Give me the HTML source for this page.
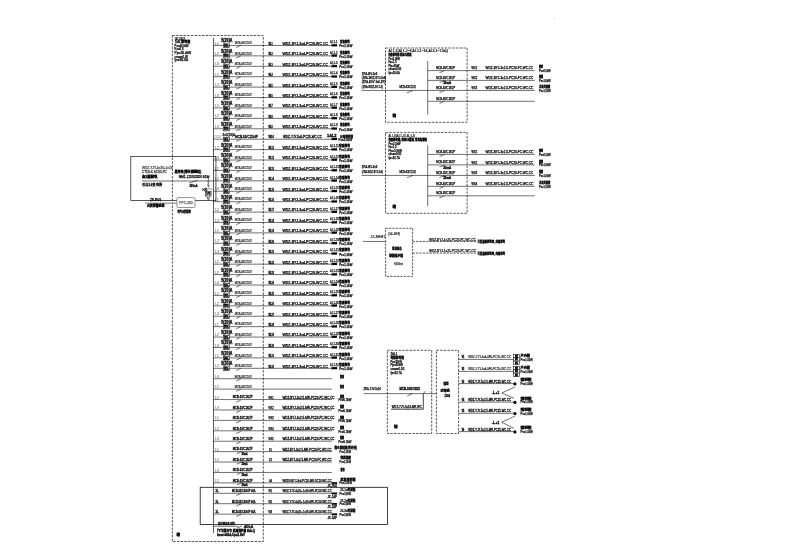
<!DOCTYPE html>
<html lang="zh">
<head>
<meta charset="utf-8">
<title>配电系统图</title>
<style>
html,body{margin:0;padding:0;background:#fff;}
body{width:800px;height:558px;overflow:hidden;}
svg{display:block;}
svg{filter:grayscale(1);}
text{font-family:"Liberation Sans","Noto Sans CJK SC",sans-serif;fill:#000;stroke:#000;stroke-width:0.25px;}
text.b{font-weight:bold;stroke-width:0.3px;}
text.m{stroke-width:0.27px;}
text.c{font-weight:bold;stroke-width:0.28px;}
</style>
</head>
<body>
<svg width="800" height="558" viewBox="0 0 800 558">
<rect x="0" y="0" width="800" height="558" fill="#fff"/>
<rect x="172.40" y="35.50" width="90.90" height="506.00" fill="none" stroke="#111" stroke-width="0.7" stroke-dasharray="2.5 1.2"/>
<line x1="213.50" y1="38.00" x2="213.50" y2="533.00" stroke="#111" stroke-width="0.7"/>
<text x="174.60" y="39.70" font-size="3.9" textLength="10.50" lengthAdjust="spacingAndGlyphs">1AL1(AL2)</text>
<text x="174.80" y="43.27" font-size="3.77" textLength="6.00" lengthAdjust="spacingAndGlyphs">1#AL</text>
<text x="181.20" y="43.27" font-size="3.4" textLength="9.00" lengthAdjust="spacingAndGlyphs" class="c">配电箱</text>
<text x="174.60" y="46.84" font-size="3.9" textLength="14.00" lengthAdjust="spacingAndGlyphs">Pe=48.0kW</text>
<text x="174.60" y="50.41" font-size="3.9" textLength="9.00" lengthAdjust="spacingAndGlyphs">Kx=0.8</text>
<text x="174.60" y="53.98" font-size="3.9" textLength="16.50" lengthAdjust="spacingAndGlyphs">Pjs=38.4kW</text>
<text x="174.60" y="57.55" font-size="3.9" textLength="13.50" lengthAdjust="spacingAndGlyphs">cosø=0.85</text>
<text x="174.60" y="61.12" font-size="3.9" textLength="13.50" lengthAdjust="spacingAndGlyphs">Ijs=68.6A</text>
<text x="176.50" y="536.30" font-size="3.6" class="c">箱</text>
<line x1="213.50" y1="45.45" x2="331.90" y2="45.45" stroke="#111" stroke-width="0.6"/>
<text x="215.20" y="44.55" font-size="3.38" textLength="3.70" lengthAdjust="spacingAndGlyphs" style="fill:#555;stroke:#555;stroke-width:0.06px">L1</text>
<text x="221.30" y="42.45" font-size="4.42" textLength="11.20" lengthAdjust="spacingAndGlyphs" class="b">5(20)A</text>
<rect x="223.30" y="43.95" width="6.30" height="3.60" fill="#fff" stroke="#111" stroke-width="0.6"/>
<text x="224.00" y="47.05" font-size="3.38" textLength="4.60" lengthAdjust="spacingAndGlyphs" class="b">Wh</text>
<text x="234.80" y="44.25" font-size="3.9" textLength="17.10" lengthAdjust="spacingAndGlyphs" style="stroke-width:0.15px">MCB-63/C20/2</text>
<line x1="236.20" y1="47.65" x2="240.80" y2="45.45" stroke="#111" stroke-width="0.6"/>
<text x="268.40" y="44.85" font-size="3.9" textLength="4.20" lengthAdjust="spacingAndGlyphs" class="b">WL1</text>
<text x="282.50" y="44.85" font-size="3.9" textLength="45.50" lengthAdjust="spacingAndGlyphs">WDZ-BYJ-3x4-PC20-WC.CC</text>
<text x="330.10" y="43.15" font-size="3.51" textLength="7.60" lengthAdjust="spacingAndGlyphs" style="fill:#222;stroke:#222">AL1-1</text>
<rect x="331.70" y="44.25" width="5.30" height="2.00" fill="#000" stroke="#111" stroke-width="0.2"/>
<text x="340.00" y="43.15" font-size="3.6" textLength="9.80" lengthAdjust="spacingAndGlyphs" class="c">宿舍配电</text>
<text x="339.20" y="47.25" font-size="3.77" textLength="13.20" lengthAdjust="spacingAndGlyphs">Pe=1.0kW</text>
<line x1="213.50" y1="55.87" x2="331.90" y2="55.87" stroke="#111" stroke-width="0.6"/>
<text x="215.20" y="54.97" font-size="3.38" textLength="3.70" lengthAdjust="spacingAndGlyphs" style="fill:#555;stroke:#555;stroke-width:0.06px">L2</text>
<text x="221.30" y="52.87" font-size="4.42" textLength="11.20" lengthAdjust="spacingAndGlyphs" class="b">5(20)A</text>
<rect x="223.30" y="54.37" width="6.30" height="3.60" fill="#fff" stroke="#111" stroke-width="0.6"/>
<text x="224.00" y="57.47" font-size="3.38" textLength="4.60" lengthAdjust="spacingAndGlyphs" class="b">Wh</text>
<text x="234.80" y="54.66" font-size="3.9" textLength="17.10" lengthAdjust="spacingAndGlyphs" style="stroke-width:0.15px">MCB-63/C20/2</text>
<line x1="236.20" y1="58.07" x2="240.80" y2="55.87" stroke="#111" stroke-width="0.6"/>
<text x="268.40" y="55.27" font-size="3.9" textLength="4.20" lengthAdjust="spacingAndGlyphs" class="b">WL2</text>
<text x="282.50" y="55.27" font-size="3.9" textLength="45.50" lengthAdjust="spacingAndGlyphs">WDZ-BYJ-3x4-PC20-WC.CC</text>
<text x="330.10" y="53.57" font-size="3.51" textLength="7.60" lengthAdjust="spacingAndGlyphs" style="fill:#222;stroke:#222">AL1-2</text>
<rect x="331.70" y="54.66" width="5.30" height="2.00" fill="#000" stroke="#111" stroke-width="0.2"/>
<text x="340.00" y="53.57" font-size="3.6" textLength="9.80" lengthAdjust="spacingAndGlyphs" class="c">宿舍配电</text>
<text x="339.20" y="57.66" font-size="3.77" textLength="13.20" lengthAdjust="spacingAndGlyphs">Pe=1.0kW</text>
<line x1="213.50" y1="66.28" x2="331.90" y2="66.28" stroke="#111" stroke-width="0.6"/>
<text x="215.20" y="65.38" font-size="3.38" textLength="3.70" lengthAdjust="spacingAndGlyphs" style="fill:#555;stroke:#555;stroke-width:0.06px">L3</text>
<text x="221.30" y="63.28" font-size="4.42" textLength="11.20" lengthAdjust="spacingAndGlyphs" class="b">5(20)A</text>
<rect x="223.30" y="64.78" width="6.30" height="3.60" fill="#fff" stroke="#111" stroke-width="0.6"/>
<text x="224.00" y="67.88" font-size="3.38" textLength="4.60" lengthAdjust="spacingAndGlyphs" class="b">Wh</text>
<text x="234.80" y="65.08" font-size="3.9" textLength="17.10" lengthAdjust="spacingAndGlyphs" style="stroke-width:0.15px">MCB-63/C20/2</text>
<line x1="236.20" y1="68.48" x2="240.80" y2="66.28" stroke="#111" stroke-width="0.6"/>
<text x="268.40" y="65.68" font-size="3.9" textLength="4.20" lengthAdjust="spacingAndGlyphs" class="b">WL3</text>
<text x="282.50" y="65.68" font-size="3.9" textLength="45.50" lengthAdjust="spacingAndGlyphs">WDZ-BYJ-3x4-PC20-WC.CC</text>
<text x="330.10" y="63.98" font-size="3.51" textLength="7.60" lengthAdjust="spacingAndGlyphs" style="fill:#222;stroke:#222">AL1-3</text>
<rect x="331.70" y="65.08" width="5.30" height="2.00" fill="#000" stroke="#111" stroke-width="0.2"/>
<text x="340.00" y="63.98" font-size="3.6" textLength="9.80" lengthAdjust="spacingAndGlyphs" class="c">宿舍配电</text>
<text x="339.20" y="68.08" font-size="3.77" textLength="13.20" lengthAdjust="spacingAndGlyphs">Pe=1.0kW</text>
<line x1="213.50" y1="76.69" x2="331.90" y2="76.69" stroke="#111" stroke-width="0.6"/>
<text x="215.20" y="75.79" font-size="3.38" textLength="3.70" lengthAdjust="spacingAndGlyphs" style="fill:#555;stroke:#555;stroke-width:0.06px">L1</text>
<text x="221.30" y="73.69" font-size="4.42" textLength="11.20" lengthAdjust="spacingAndGlyphs" class="b">5(20)A</text>
<rect x="223.30" y="75.19" width="6.30" height="3.60" fill="#fff" stroke="#111" stroke-width="0.6"/>
<text x="224.00" y="78.29" font-size="3.38" textLength="4.60" lengthAdjust="spacingAndGlyphs" class="b">Wh</text>
<text x="234.80" y="75.49" font-size="3.9" textLength="17.10" lengthAdjust="spacingAndGlyphs" style="stroke-width:0.15px">MCB-63/C20/2</text>
<line x1="236.20" y1="78.89" x2="240.80" y2="76.69" stroke="#111" stroke-width="0.6"/>
<text x="268.40" y="76.09" font-size="3.9" textLength="4.20" lengthAdjust="spacingAndGlyphs" class="b">WL4</text>
<text x="282.50" y="76.09" font-size="3.9" textLength="45.50" lengthAdjust="spacingAndGlyphs">WDZ-BYJ-3x4-PC20-WC.CC</text>
<text x="330.10" y="74.39" font-size="3.51" textLength="7.60" lengthAdjust="spacingAndGlyphs" style="fill:#222;stroke:#222">AL1-4</text>
<rect x="331.70" y="75.49" width="5.30" height="2.00" fill="#000" stroke="#111" stroke-width="0.2"/>
<text x="340.00" y="74.39" font-size="3.6" textLength="9.80" lengthAdjust="spacingAndGlyphs" class="c">宿舍配电</text>
<text x="339.20" y="78.49" font-size="3.77" textLength="13.20" lengthAdjust="spacingAndGlyphs">Pe=1.0kW</text>
<line x1="213.50" y1="87.11" x2="331.90" y2="87.11" stroke="#111" stroke-width="0.6"/>
<text x="215.20" y="86.21" font-size="3.38" textLength="3.70" lengthAdjust="spacingAndGlyphs" style="fill:#555;stroke:#555;stroke-width:0.06px">L2</text>
<text x="221.30" y="84.11" font-size="4.42" textLength="11.20" lengthAdjust="spacingAndGlyphs" class="b">5(20)A</text>
<rect x="223.30" y="85.61" width="6.30" height="3.60" fill="#fff" stroke="#111" stroke-width="0.6"/>
<text x="224.00" y="88.71" font-size="3.38" textLength="4.60" lengthAdjust="spacingAndGlyphs" class="b">Wh</text>
<text x="234.80" y="85.91" font-size="3.9" textLength="17.10" lengthAdjust="spacingAndGlyphs" style="stroke-width:0.15px">MCB-63/C20/2</text>
<line x1="236.20" y1="89.31" x2="240.80" y2="87.11" stroke="#111" stroke-width="0.6"/>
<text x="268.40" y="86.51" font-size="3.9" textLength="4.20" lengthAdjust="spacingAndGlyphs" class="b">WL5</text>
<text x="282.50" y="86.51" font-size="3.9" textLength="45.50" lengthAdjust="spacingAndGlyphs">WDZ-BYJ-3x4-PC20-WC.CC</text>
<text x="330.10" y="84.81" font-size="3.51" textLength="7.60" lengthAdjust="spacingAndGlyphs" style="fill:#222;stroke:#222">AL1-5</text>
<rect x="331.70" y="85.91" width="5.30" height="2.00" fill="#000" stroke="#111" stroke-width="0.2"/>
<text x="340.00" y="84.81" font-size="3.6" textLength="9.80" lengthAdjust="spacingAndGlyphs" class="c">宿舍配电</text>
<text x="339.20" y="88.91" font-size="3.77" textLength="13.20" lengthAdjust="spacingAndGlyphs">Pe=1.0kW</text>
<line x1="213.50" y1="97.53" x2="331.90" y2="97.53" stroke="#111" stroke-width="0.6"/>
<text x="215.20" y="96.62" font-size="3.38" textLength="3.70" lengthAdjust="spacingAndGlyphs" style="fill:#555;stroke:#555;stroke-width:0.06px">L3</text>
<text x="221.30" y="94.53" font-size="4.42" textLength="11.20" lengthAdjust="spacingAndGlyphs" class="b">5(20)A</text>
<rect x="223.30" y="96.03" width="6.30" height="3.60" fill="#fff" stroke="#111" stroke-width="0.6"/>
<text x="224.00" y="99.12" font-size="3.38" textLength="4.60" lengthAdjust="spacingAndGlyphs" class="b">Wh</text>
<text x="234.80" y="96.33" font-size="3.9" textLength="17.10" lengthAdjust="spacingAndGlyphs" style="stroke-width:0.15px">MCB-63/C20/2</text>
<line x1="236.20" y1="99.73" x2="240.80" y2="97.53" stroke="#111" stroke-width="0.6"/>
<text x="268.40" y="96.93" font-size="3.9" textLength="4.20" lengthAdjust="spacingAndGlyphs" class="b">WL6</text>
<text x="282.50" y="96.93" font-size="3.9" textLength="45.50" lengthAdjust="spacingAndGlyphs">WDZ-BYJ-3x4-PC20-WC.CC</text>
<text x="330.10" y="95.23" font-size="3.51" textLength="7.60" lengthAdjust="spacingAndGlyphs" style="fill:#222;stroke:#222">AL1-6</text>
<rect x="331.70" y="96.33" width="5.30" height="2.00" fill="#000" stroke="#111" stroke-width="0.2"/>
<text x="340.00" y="95.23" font-size="3.6" textLength="9.80" lengthAdjust="spacingAndGlyphs" class="c">宿舍配电</text>
<text x="339.20" y="99.33" font-size="3.77" textLength="13.20" lengthAdjust="spacingAndGlyphs">Pe=1.0kW</text>
<line x1="213.50" y1="107.94" x2="331.90" y2="107.94" stroke="#111" stroke-width="0.6"/>
<text x="215.20" y="107.04" font-size="3.38" textLength="3.70" lengthAdjust="spacingAndGlyphs" style="fill:#555;stroke:#555;stroke-width:0.06px">L1</text>
<text x="221.30" y="104.94" font-size="4.42" textLength="11.20" lengthAdjust="spacingAndGlyphs" class="b">5(20)A</text>
<rect x="223.30" y="106.44" width="6.30" height="3.60" fill="#fff" stroke="#111" stroke-width="0.6"/>
<text x="224.00" y="109.54" font-size="3.38" textLength="4.60" lengthAdjust="spacingAndGlyphs" class="b">Wh</text>
<text x="234.80" y="106.74" font-size="3.9" textLength="17.10" lengthAdjust="spacingAndGlyphs" style="stroke-width:0.15px">MCB-63/C20/2</text>
<line x1="236.20" y1="110.14" x2="240.80" y2="107.94" stroke="#111" stroke-width="0.6"/>
<text x="268.40" y="107.34" font-size="3.9" textLength="4.20" lengthAdjust="spacingAndGlyphs" class="b">WL7</text>
<text x="282.50" y="107.34" font-size="3.9" textLength="45.50" lengthAdjust="spacingAndGlyphs">WDZ-BYJ-3x4-PC20-WC.CC</text>
<text x="330.10" y="105.64" font-size="3.51" textLength="7.60" lengthAdjust="spacingAndGlyphs" style="fill:#222;stroke:#222">AL1-7</text>
<rect x="331.70" y="106.74" width="5.30" height="2.00" fill="#000" stroke="#111" stroke-width="0.2"/>
<text x="340.00" y="105.64" font-size="3.6" textLength="9.80" lengthAdjust="spacingAndGlyphs" class="c">宿舍配电</text>
<text x="339.20" y="109.74" font-size="3.77" textLength="13.20" lengthAdjust="spacingAndGlyphs">Pe=1.0kW</text>
<line x1="213.50" y1="118.36" x2="331.90" y2="118.36" stroke="#111" stroke-width="0.6"/>
<text x="215.20" y="117.45" font-size="3.38" textLength="3.70" lengthAdjust="spacingAndGlyphs" style="fill:#555;stroke:#555;stroke-width:0.06px">L2</text>
<text x="221.30" y="115.36" font-size="4.42" textLength="11.20" lengthAdjust="spacingAndGlyphs" class="b">5(20)A</text>
<rect x="223.30" y="116.86" width="6.30" height="3.60" fill="#fff" stroke="#111" stroke-width="0.6"/>
<text x="224.00" y="119.95" font-size="3.38" textLength="4.60" lengthAdjust="spacingAndGlyphs" class="b">Wh</text>
<text x="234.80" y="117.16" font-size="3.9" textLength="17.10" lengthAdjust="spacingAndGlyphs" style="stroke-width:0.15px">MCB-63/C20/2</text>
<line x1="236.20" y1="120.56" x2="240.80" y2="118.36" stroke="#111" stroke-width="0.6"/>
<text x="268.40" y="117.76" font-size="3.9" textLength="4.20" lengthAdjust="spacingAndGlyphs" class="b">WL8</text>
<text x="282.50" y="117.76" font-size="3.9" textLength="45.50" lengthAdjust="spacingAndGlyphs">WDZ-BYJ-3x4-PC20-WC.CC</text>
<text x="330.10" y="116.06" font-size="3.51" textLength="7.60" lengthAdjust="spacingAndGlyphs" style="fill:#222;stroke:#222">AL1-8</text>
<rect x="331.70" y="117.16" width="5.30" height="2.00" fill="#000" stroke="#111" stroke-width="0.2"/>
<text x="340.00" y="116.06" font-size="3.6" textLength="9.80" lengthAdjust="spacingAndGlyphs" class="c">宿舍配电</text>
<text x="339.20" y="120.16" font-size="3.77" textLength="13.20" lengthAdjust="spacingAndGlyphs">Pe=1.0kW</text>
<line x1="213.50" y1="128.77" x2="331.90" y2="128.77" stroke="#111" stroke-width="0.6"/>
<text x="215.20" y="127.87" font-size="3.38" textLength="3.70" lengthAdjust="spacingAndGlyphs" style="fill:#555;stroke:#555;stroke-width:0.06px">L3</text>
<text x="221.30" y="125.77" font-size="4.42" textLength="11.20" lengthAdjust="spacingAndGlyphs" class="b">5(20)A</text>
<rect x="223.30" y="127.27" width="6.30" height="3.60" fill="#fff" stroke="#111" stroke-width="0.6"/>
<text x="224.00" y="130.37" font-size="3.38" textLength="4.60" lengthAdjust="spacingAndGlyphs" class="b">Wh</text>
<text x="234.80" y="127.57" font-size="3.9" textLength="17.10" lengthAdjust="spacingAndGlyphs" style="stroke-width:0.15px">MCB-63/C20/2</text>
<line x1="236.20" y1="130.97" x2="240.80" y2="128.77" stroke="#111" stroke-width="0.6"/>
<text x="268.40" y="128.17" font-size="3.9" textLength="4.20" lengthAdjust="spacingAndGlyphs" class="b">WL9</text>
<text x="282.50" y="128.17" font-size="3.9" textLength="45.50" lengthAdjust="spacingAndGlyphs">WDZ-BYJ-3x4-PC20-WC.CC</text>
<text x="330.10" y="126.47" font-size="3.51" textLength="7.60" lengthAdjust="spacingAndGlyphs" style="fill:#222;stroke:#222">AL1-9</text>
<rect x="331.70" y="127.57" width="5.30" height="2.00" fill="#000" stroke="#111" stroke-width="0.2"/>
<text x="340.00" y="126.47" font-size="3.6" textLength="9.80" lengthAdjust="spacingAndGlyphs" class="c">宿舍配电</text>
<text x="339.20" y="130.57" font-size="3.77" textLength="13.20" lengthAdjust="spacingAndGlyphs">Pe=1.0kW</text>
<line x1="213.50" y1="139.19" x2="331.90" y2="139.19" stroke="#111" stroke-width="0.6"/>
<text x="214.30" y="138.28" font-size="3.12" textLength="6.20" lengthAdjust="spacingAndGlyphs" style="fill:#555;stroke:#555;stroke-width:0.06px">L1.2.3</text>
<text x="222.50" y="136.19" font-size="3.77" textLength="12.50" lengthAdjust="spacingAndGlyphs">3x5(20)A</text>
<rect x="223.30" y="137.69" width="6.30" height="3.60" fill="#fff" stroke="#111" stroke-width="0.6"/>
<text x="224.00" y="140.78" font-size="3.38" textLength="4.60" lengthAdjust="spacingAndGlyphs" class="b">Wh</text>
<text x="235.00" y="137.99" font-size="3.9" textLength="23.00" lengthAdjust="spacingAndGlyphs" class="m">MCB-63/C25/4P</text>
<line x1="236.20" y1="141.38" x2="240.80" y2="139.19" stroke="#111" stroke-width="0.6"/>
<text x="268.60" y="138.19" font-size="3.9" textLength="5.20" lengthAdjust="spacingAndGlyphs" class="b">W10</text>
<text x="283.00" y="138.49" font-size="3.9" textLength="39.00" lengthAdjust="spacingAndGlyphs" class="m">WDZ-YJY-5x6-PC25-WC.CC</text>
<text x="327.00" y="137.38" font-size="3.9" textLength="9.50" lengthAdjust="spacingAndGlyphs" class="b">1AL2</text>
<rect x="331.70" y="137.99" width="5.30" height="2.00" fill="#000" stroke="#111" stroke-width="0.2"/>
<text x="340.00" y="137.59" font-size="3.5" textLength="13.00" lengthAdjust="spacingAndGlyphs" class="c">公共照明箱</text>
<text x="338.50" y="141.09" font-size="3.9" textLength="13.50" lengthAdjust="spacingAndGlyphs">Pe=3.0kW</text>
<line x1="213.50" y1="149.60" x2="331.90" y2="149.60" stroke="#111" stroke-width="0.6"/>
<text x="215.20" y="148.70" font-size="3.38" textLength="3.70" lengthAdjust="spacingAndGlyphs" style="fill:#555;stroke:#555;stroke-width:0.06px">L2</text>
<text x="221.30" y="146.60" font-size="4.42" textLength="11.20" lengthAdjust="spacingAndGlyphs" class="b">5(20)A</text>
<rect x="223.30" y="148.10" width="6.30" height="3.60" fill="#fff" stroke="#111" stroke-width="0.6"/>
<text x="224.00" y="151.20" font-size="3.38" textLength="4.60" lengthAdjust="spacingAndGlyphs" class="b">Wh</text>
<text x="234.80" y="148.40" font-size="3.9" textLength="17.10" lengthAdjust="spacingAndGlyphs" style="stroke-width:0.15px">MCB-63/C20/2</text>
<line x1="236.20" y1="151.80" x2="240.80" y2="149.60" stroke="#111" stroke-width="0.6"/>
<text x="268.40" y="149.00" font-size="3.9" textLength="5.40" lengthAdjust="spacingAndGlyphs" class="b">WL11</text>
<text x="282.50" y="149.00" font-size="3.9" textLength="45.50" lengthAdjust="spacingAndGlyphs">WDZ-BYJ-3x4-PC20-WC.CC</text>
<text x="330.10" y="147.30" font-size="3.51" textLength="8.80" lengthAdjust="spacingAndGlyphs" style="fill:#222;stroke:#222">AL1-11</text>
<rect x="331.70" y="148.40" width="5.30" height="2.00" fill="#000" stroke="#111" stroke-width="0.2"/>
<text x="339.00" y="147.30" font-size="3.6" textLength="11.00" lengthAdjust="spacingAndGlyphs" class="c">宿舍配电</text>
<text x="339.20" y="151.40" font-size="3.77" textLength="13.20" lengthAdjust="spacingAndGlyphs">Pe=1.0kW</text>
<line x1="213.50" y1="160.01" x2="331.90" y2="160.01" stroke="#111" stroke-width="0.6"/>
<text x="215.20" y="159.11" font-size="3.38" textLength="3.70" lengthAdjust="spacingAndGlyphs" style="fill:#555;stroke:#555;stroke-width:0.06px">L3</text>
<text x="221.30" y="157.01" font-size="4.42" textLength="11.20" lengthAdjust="spacingAndGlyphs" class="b">5(20)A</text>
<rect x="223.30" y="158.51" width="6.30" height="3.60" fill="#fff" stroke="#111" stroke-width="0.6"/>
<text x="224.00" y="161.61" font-size="3.38" textLength="4.60" lengthAdjust="spacingAndGlyphs" class="b">Wh</text>
<text x="234.80" y="158.81" font-size="3.9" textLength="17.10" lengthAdjust="spacingAndGlyphs" style="stroke-width:0.15px">MCB-63/C20/2</text>
<line x1="236.20" y1="162.21" x2="240.80" y2="160.01" stroke="#111" stroke-width="0.6"/>
<text x="268.40" y="159.41" font-size="3.9" textLength="5.40" lengthAdjust="spacingAndGlyphs" class="b">WL12</text>
<text x="282.50" y="159.41" font-size="3.9" textLength="45.50" lengthAdjust="spacingAndGlyphs">WDZ-BYJ-3x4-PC20-WC.CC</text>
<text x="330.10" y="157.71" font-size="3.51" textLength="8.80" lengthAdjust="spacingAndGlyphs" style="fill:#222;stroke:#222">AL1-12</text>
<rect x="331.70" y="158.81" width="5.30" height="2.00" fill="#000" stroke="#111" stroke-width="0.2"/>
<text x="339.00" y="157.71" font-size="3.6" textLength="11.00" lengthAdjust="spacingAndGlyphs" class="c">宿舍配电</text>
<text x="339.20" y="161.81" font-size="3.77" textLength="13.20" lengthAdjust="spacingAndGlyphs">Pe=1.0kW</text>
<line x1="213.50" y1="170.43" x2="331.90" y2="170.43" stroke="#111" stroke-width="0.6"/>
<text x="215.20" y="169.53" font-size="3.38" textLength="3.70" lengthAdjust="spacingAndGlyphs" style="fill:#555;stroke:#555;stroke-width:0.06px">L1</text>
<text x="221.30" y="167.43" font-size="4.42" textLength="11.20" lengthAdjust="spacingAndGlyphs" class="b">5(20)A</text>
<rect x="223.30" y="168.93" width="6.30" height="3.60" fill="#fff" stroke="#111" stroke-width="0.6"/>
<text x="224.00" y="172.03" font-size="3.38" textLength="4.60" lengthAdjust="spacingAndGlyphs" class="b">Wh</text>
<text x="234.80" y="169.23" font-size="3.9" textLength="17.10" lengthAdjust="spacingAndGlyphs" style="stroke-width:0.15px">MCB-63/C20/2</text>
<line x1="236.20" y1="172.63" x2="240.80" y2="170.43" stroke="#111" stroke-width="0.6"/>
<text x="268.40" y="169.83" font-size="3.9" textLength="5.40" lengthAdjust="spacingAndGlyphs" class="b">WL13</text>
<text x="282.50" y="169.83" font-size="3.9" textLength="45.50" lengthAdjust="spacingAndGlyphs">WDZ-BYJ-3x4-PC20-WC.CC</text>
<text x="330.10" y="168.13" font-size="3.51" textLength="8.80" lengthAdjust="spacingAndGlyphs" style="fill:#222;stroke:#222">AL1-13</text>
<rect x="331.70" y="169.23" width="5.30" height="2.00" fill="#000" stroke="#111" stroke-width="0.2"/>
<text x="339.00" y="168.13" font-size="3.6" textLength="11.00" lengthAdjust="spacingAndGlyphs" class="c">宿舍配电</text>
<text x="339.20" y="172.23" font-size="3.77" textLength="13.20" lengthAdjust="spacingAndGlyphs">Pe=1.0kW</text>
<line x1="213.50" y1="180.84" x2="331.90" y2="180.84" stroke="#111" stroke-width="0.6"/>
<text x="215.20" y="179.94" font-size="3.38" textLength="3.70" lengthAdjust="spacingAndGlyphs" style="fill:#555;stroke:#555;stroke-width:0.06px">L2</text>
<text x="221.30" y="177.84" font-size="4.42" textLength="11.20" lengthAdjust="spacingAndGlyphs" class="b">5(20)A</text>
<rect x="223.30" y="179.34" width="6.30" height="3.60" fill="#fff" stroke="#111" stroke-width="0.6"/>
<text x="224.00" y="182.44" font-size="3.38" textLength="4.60" lengthAdjust="spacingAndGlyphs" class="b">Wh</text>
<text x="234.80" y="179.64" font-size="3.9" textLength="17.10" lengthAdjust="spacingAndGlyphs" style="stroke-width:0.15px">MCB-63/C20/2</text>
<line x1="236.20" y1="183.04" x2="240.80" y2="180.84" stroke="#111" stroke-width="0.6"/>
<text x="268.40" y="180.24" font-size="3.9" textLength="5.40" lengthAdjust="spacingAndGlyphs" class="b">WL14</text>
<text x="282.50" y="180.24" font-size="3.9" textLength="45.50" lengthAdjust="spacingAndGlyphs">WDZ-BYJ-3x4-PC20-WC.CC</text>
<text x="330.10" y="178.54" font-size="3.51" textLength="8.80" lengthAdjust="spacingAndGlyphs" style="fill:#222;stroke:#222">AL1-14</text>
<rect x="331.70" y="179.64" width="5.30" height="2.00" fill="#000" stroke="#111" stroke-width="0.2"/>
<text x="339.00" y="178.54" font-size="3.6" textLength="11.00" lengthAdjust="spacingAndGlyphs" class="c">宿舍配电</text>
<text x="339.20" y="182.64" font-size="3.77" textLength="13.20" lengthAdjust="spacingAndGlyphs">Pe=1.0kW</text>
<line x1="213.50" y1="191.26" x2="331.90" y2="191.26" stroke="#111" stroke-width="0.6"/>
<text x="215.20" y="190.36" font-size="3.38" textLength="3.70" lengthAdjust="spacingAndGlyphs" style="fill:#555;stroke:#555;stroke-width:0.06px">L3</text>
<text x="221.30" y="188.26" font-size="4.42" textLength="11.20" lengthAdjust="spacingAndGlyphs" class="b">5(20)A</text>
<rect x="223.30" y="189.76" width="6.30" height="3.60" fill="#fff" stroke="#111" stroke-width="0.6"/>
<text x="224.00" y="192.86" font-size="3.38" textLength="4.60" lengthAdjust="spacingAndGlyphs" class="b">Wh</text>
<text x="234.80" y="190.06" font-size="3.9" textLength="17.10" lengthAdjust="spacingAndGlyphs" style="stroke-width:0.15px">MCB-63/C20/2</text>
<line x1="236.20" y1="193.46" x2="240.80" y2="191.26" stroke="#111" stroke-width="0.6"/>
<text x="268.40" y="190.66" font-size="3.9" textLength="5.40" lengthAdjust="spacingAndGlyphs" class="b">WL15</text>
<text x="282.50" y="190.66" font-size="3.9" textLength="45.50" lengthAdjust="spacingAndGlyphs">WDZ-BYJ-3x4-PC20-WC.CC</text>
<text x="330.10" y="188.96" font-size="3.51" textLength="8.80" lengthAdjust="spacingAndGlyphs" style="fill:#222;stroke:#222">AL1-15</text>
<rect x="331.70" y="190.06" width="5.30" height="2.00" fill="#000" stroke="#111" stroke-width="0.2"/>
<text x="339.00" y="188.96" font-size="3.6" textLength="11.00" lengthAdjust="spacingAndGlyphs" class="c">宿舍配电</text>
<text x="339.20" y="193.06" font-size="3.77" textLength="13.20" lengthAdjust="spacingAndGlyphs">Pe=1.0kW</text>
<line x1="213.50" y1="201.68" x2="331.90" y2="201.68" stroke="#111" stroke-width="0.6"/>
<text x="215.20" y="200.78" font-size="3.38" textLength="3.70" lengthAdjust="spacingAndGlyphs" style="fill:#555;stroke:#555;stroke-width:0.06px">L1</text>
<text x="221.30" y="198.68" font-size="4.42" textLength="11.20" lengthAdjust="spacingAndGlyphs" class="b">5(20)A</text>
<rect x="223.30" y="200.18" width="6.30" height="3.60" fill="#fff" stroke="#111" stroke-width="0.6"/>
<text x="224.00" y="203.28" font-size="3.38" textLength="4.60" lengthAdjust="spacingAndGlyphs" class="b">Wh</text>
<text x="234.80" y="200.48" font-size="3.9" textLength="17.10" lengthAdjust="spacingAndGlyphs" style="stroke-width:0.15px">MCB-63/C20/2</text>
<line x1="236.20" y1="203.88" x2="240.80" y2="201.68" stroke="#111" stroke-width="0.6"/>
<text x="268.40" y="201.08" font-size="3.9" textLength="5.40" lengthAdjust="spacingAndGlyphs" class="b">WL16</text>
<text x="282.50" y="201.08" font-size="3.9" textLength="45.50" lengthAdjust="spacingAndGlyphs">WDZ-BYJ-3x4-PC20-WC.CC</text>
<text x="330.10" y="199.38" font-size="3.51" textLength="8.80" lengthAdjust="spacingAndGlyphs" style="fill:#222;stroke:#222">AL1-16</text>
<rect x="331.70" y="200.48" width="5.30" height="2.00" fill="#000" stroke="#111" stroke-width="0.2"/>
<text x="339.00" y="199.38" font-size="3.6" textLength="11.00" lengthAdjust="spacingAndGlyphs" class="c">宿舍配电</text>
<text x="339.20" y="203.48" font-size="3.77" textLength="13.20" lengthAdjust="spacingAndGlyphs">Pe=1.0kW</text>
<line x1="213.50" y1="212.09" x2="331.90" y2="212.09" stroke="#111" stroke-width="0.6"/>
<text x="215.20" y="211.19" font-size="3.38" textLength="3.70" lengthAdjust="spacingAndGlyphs" style="fill:#555;stroke:#555;stroke-width:0.06px">L2</text>
<text x="221.30" y="209.09" font-size="4.42" textLength="11.20" lengthAdjust="spacingAndGlyphs" class="b">5(20)A</text>
<rect x="223.30" y="210.59" width="6.30" height="3.60" fill="#fff" stroke="#111" stroke-width="0.6"/>
<text x="224.00" y="213.69" font-size="3.38" textLength="4.60" lengthAdjust="spacingAndGlyphs" class="b">Wh</text>
<text x="234.80" y="210.89" font-size="3.9" textLength="17.10" lengthAdjust="spacingAndGlyphs" style="stroke-width:0.15px">MCB-63/C20/2</text>
<line x1="236.20" y1="214.29" x2="240.80" y2="212.09" stroke="#111" stroke-width="0.6"/>
<text x="268.40" y="211.49" font-size="3.9" textLength="5.40" lengthAdjust="spacingAndGlyphs" class="b">WL17</text>
<text x="282.50" y="211.49" font-size="3.9" textLength="45.50" lengthAdjust="spacingAndGlyphs">WDZ-BYJ-3x4-PC20-WC.CC</text>
<text x="330.10" y="209.79" font-size="3.51" textLength="8.80" lengthAdjust="spacingAndGlyphs" style="fill:#222;stroke:#222">AL1-17</text>
<rect x="331.70" y="210.89" width="5.30" height="2.00" fill="#000" stroke="#111" stroke-width="0.2"/>
<text x="339.00" y="209.79" font-size="3.6" textLength="11.00" lengthAdjust="spacingAndGlyphs" class="c">宿舍配电</text>
<text x="339.20" y="213.89" font-size="3.77" textLength="13.20" lengthAdjust="spacingAndGlyphs">Pe=1.0kW</text>
<line x1="213.50" y1="222.50" x2="331.90" y2="222.50" stroke="#111" stroke-width="0.6"/>
<text x="215.20" y="221.60" font-size="3.38" textLength="3.70" lengthAdjust="spacingAndGlyphs" style="fill:#555;stroke:#555;stroke-width:0.06px">L3</text>
<text x="221.30" y="219.50" font-size="4.42" textLength="11.20" lengthAdjust="spacingAndGlyphs" class="b">5(20)A</text>
<rect x="223.30" y="221.00" width="6.30" height="3.60" fill="#fff" stroke="#111" stroke-width="0.6"/>
<text x="224.00" y="224.10" font-size="3.38" textLength="4.60" lengthAdjust="spacingAndGlyphs" class="b">Wh</text>
<text x="234.80" y="221.31" font-size="3.9" textLength="17.10" lengthAdjust="spacingAndGlyphs" style="stroke-width:0.15px">MCB-63/C20/2</text>
<line x1="236.20" y1="224.70" x2="240.80" y2="222.50" stroke="#111" stroke-width="0.6"/>
<text x="268.40" y="221.91" font-size="3.9" textLength="5.40" lengthAdjust="spacingAndGlyphs" class="b">WL18</text>
<text x="282.50" y="221.91" font-size="3.9" textLength="45.50" lengthAdjust="spacingAndGlyphs">WDZ-BYJ-3x4-PC20-WC.CC</text>
<text x="330.10" y="220.20" font-size="3.51" textLength="8.80" lengthAdjust="spacingAndGlyphs" style="fill:#222;stroke:#222">AL1-18</text>
<rect x="331.70" y="221.31" width="5.30" height="2.00" fill="#000" stroke="#111" stroke-width="0.2"/>
<text x="339.00" y="220.20" font-size="3.6" textLength="11.00" lengthAdjust="spacingAndGlyphs" class="c">宿舍配电</text>
<text x="339.20" y="224.31" font-size="3.77" textLength="13.20" lengthAdjust="spacingAndGlyphs">Pe=1.0kW</text>
<line x1="213.50" y1="232.92" x2="331.90" y2="232.92" stroke="#111" stroke-width="0.6"/>
<text x="215.20" y="232.02" font-size="3.38" textLength="3.70" lengthAdjust="spacingAndGlyphs" style="fill:#555;stroke:#555;stroke-width:0.06px">L1</text>
<text x="221.30" y="229.92" font-size="4.42" textLength="11.20" lengthAdjust="spacingAndGlyphs" class="b">5(20)A</text>
<rect x="223.30" y="231.42" width="6.30" height="3.60" fill="#fff" stroke="#111" stroke-width="0.6"/>
<text x="224.00" y="234.52" font-size="3.38" textLength="4.60" lengthAdjust="spacingAndGlyphs" class="b">Wh</text>
<text x="234.80" y="231.72" font-size="3.9" textLength="17.10" lengthAdjust="spacingAndGlyphs" style="stroke-width:0.15px">MCB-63/C20/2</text>
<line x1="236.20" y1="235.12" x2="240.80" y2="232.92" stroke="#111" stroke-width="0.6"/>
<text x="268.40" y="232.32" font-size="3.9" textLength="5.40" lengthAdjust="spacingAndGlyphs" class="b">WL19</text>
<text x="282.50" y="232.32" font-size="3.9" textLength="45.50" lengthAdjust="spacingAndGlyphs">WDZ-BYJ-3x4-PC20-WC.CC</text>
<text x="330.10" y="230.62" font-size="3.51" textLength="8.80" lengthAdjust="spacingAndGlyphs" style="fill:#222;stroke:#222">AL1-19</text>
<rect x="331.70" y="231.72" width="5.30" height="2.00" fill="#000" stroke="#111" stroke-width="0.2"/>
<text x="339.00" y="230.62" font-size="3.6" textLength="11.00" lengthAdjust="spacingAndGlyphs" class="c">宿舍配电</text>
<text x="339.20" y="234.72" font-size="3.77" textLength="13.20" lengthAdjust="spacingAndGlyphs">Pe=1.0kW</text>
<line x1="213.50" y1="243.33" x2="331.90" y2="243.33" stroke="#111" stroke-width="0.6"/>
<text x="215.20" y="242.43" font-size="3.38" textLength="3.70" lengthAdjust="spacingAndGlyphs" style="fill:#555;stroke:#555;stroke-width:0.06px">L2</text>
<text x="221.30" y="240.33" font-size="4.42" textLength="11.20" lengthAdjust="spacingAndGlyphs" class="b">5(20)A</text>
<rect x="223.30" y="241.83" width="6.30" height="3.60" fill="#fff" stroke="#111" stroke-width="0.6"/>
<text x="224.00" y="244.93" font-size="3.38" textLength="4.60" lengthAdjust="spacingAndGlyphs" class="b">Wh</text>
<text x="234.80" y="242.13" font-size="3.9" textLength="17.10" lengthAdjust="spacingAndGlyphs" style="stroke-width:0.15px">MCB-63/C20/2</text>
<line x1="236.20" y1="245.53" x2="240.80" y2="243.33" stroke="#111" stroke-width="0.6"/>
<text x="268.40" y="242.73" font-size="3.9" textLength="5.40" lengthAdjust="spacingAndGlyphs" class="b">WL20</text>
<text x="282.50" y="242.73" font-size="3.9" textLength="45.50" lengthAdjust="spacingAndGlyphs">WDZ-BYJ-3x4-PC20-WC.CC</text>
<text x="330.10" y="241.03" font-size="3.51" textLength="8.80" lengthAdjust="spacingAndGlyphs" style="fill:#222;stroke:#222">AL1-20</text>
<rect x="331.70" y="242.13" width="5.30" height="2.00" fill="#000" stroke="#111" stroke-width="0.2"/>
<text x="339.00" y="241.03" font-size="3.6" textLength="11.00" lengthAdjust="spacingAndGlyphs" class="c">宿舍配电</text>
<text x="339.20" y="245.13" font-size="3.77" textLength="13.20" lengthAdjust="spacingAndGlyphs">Pe=1.0kW</text>
<line x1="213.50" y1="253.75" x2="331.90" y2="253.75" stroke="#111" stroke-width="0.6"/>
<text x="215.20" y="252.85" font-size="3.38" textLength="3.70" lengthAdjust="spacingAndGlyphs" style="fill:#555;stroke:#555;stroke-width:0.06px">L3</text>
<text x="221.30" y="250.75" font-size="4.42" textLength="11.20" lengthAdjust="spacingAndGlyphs" class="b">5(20)A</text>
<rect x="223.30" y="252.25" width="6.30" height="3.60" fill="#fff" stroke="#111" stroke-width="0.6"/>
<text x="224.00" y="255.35" font-size="3.38" textLength="4.60" lengthAdjust="spacingAndGlyphs" class="b">Wh</text>
<text x="234.80" y="252.55" font-size="3.9" textLength="17.10" lengthAdjust="spacingAndGlyphs" style="stroke-width:0.15px">MCB-63/C20/2</text>
<line x1="236.20" y1="255.95" x2="240.80" y2="253.75" stroke="#111" stroke-width="0.6"/>
<text x="268.40" y="253.15" font-size="3.9" textLength="5.40" lengthAdjust="spacingAndGlyphs" class="b">WL21</text>
<text x="282.50" y="253.15" font-size="3.9" textLength="45.50" lengthAdjust="spacingAndGlyphs">WDZ-BYJ-3x4-PC20-WC.CC</text>
<text x="330.10" y="251.45" font-size="3.51" textLength="8.80" lengthAdjust="spacingAndGlyphs" style="fill:#222;stroke:#222">AL1-21</text>
<rect x="331.70" y="252.55" width="5.30" height="2.00" fill="#000" stroke="#111" stroke-width="0.2"/>
<text x="339.00" y="251.45" font-size="3.6" textLength="11.00" lengthAdjust="spacingAndGlyphs" class="c">宿舍配电</text>
<text x="339.20" y="255.55" font-size="3.77" textLength="13.20" lengthAdjust="spacingAndGlyphs">Pe=1.0kW</text>
<line x1="213.50" y1="264.16" x2="331.90" y2="264.16" stroke="#111" stroke-width="0.6"/>
<text x="215.20" y="263.26" font-size="3.38" textLength="3.70" lengthAdjust="spacingAndGlyphs" style="fill:#555;stroke:#555;stroke-width:0.06px">L1</text>
<text x="221.30" y="261.16" font-size="4.42" textLength="11.20" lengthAdjust="spacingAndGlyphs" class="b">5(20)A</text>
<rect x="223.30" y="262.66" width="6.30" height="3.60" fill="#fff" stroke="#111" stroke-width="0.6"/>
<text x="224.00" y="265.76" font-size="3.38" textLength="4.60" lengthAdjust="spacingAndGlyphs" class="b">Wh</text>
<text x="234.80" y="262.96" font-size="3.9" textLength="17.10" lengthAdjust="spacingAndGlyphs" style="stroke-width:0.15px">MCB-63/C20/2</text>
<line x1="236.20" y1="266.36" x2="240.80" y2="264.16" stroke="#111" stroke-width="0.6"/>
<text x="268.40" y="263.56" font-size="3.9" textLength="5.40" lengthAdjust="spacingAndGlyphs" class="b">WL22</text>
<text x="282.50" y="263.56" font-size="3.9" textLength="45.50" lengthAdjust="spacingAndGlyphs">WDZ-BYJ-3x4-PC20-WC.CC</text>
<text x="330.10" y="261.86" font-size="3.51" textLength="8.80" lengthAdjust="spacingAndGlyphs" style="fill:#222;stroke:#222">AL1-22</text>
<rect x="331.70" y="262.96" width="5.30" height="2.00" fill="#000" stroke="#111" stroke-width="0.2"/>
<text x="339.00" y="261.86" font-size="3.6" textLength="11.00" lengthAdjust="spacingAndGlyphs" class="c">宿舍配电</text>
<text x="339.20" y="265.96" font-size="3.77" textLength="13.20" lengthAdjust="spacingAndGlyphs">Pe=1.0kW</text>
<line x1="213.50" y1="274.58" x2="331.90" y2="274.58" stroke="#111" stroke-width="0.6"/>
<text x="215.20" y="273.68" font-size="3.38" textLength="3.70" lengthAdjust="spacingAndGlyphs" style="fill:#555;stroke:#555;stroke-width:0.06px">L2</text>
<text x="221.30" y="271.58" font-size="4.42" textLength="11.20" lengthAdjust="spacingAndGlyphs" class="b">5(20)A</text>
<rect x="223.30" y="273.08" width="6.30" height="3.60" fill="#fff" stroke="#111" stroke-width="0.6"/>
<text x="224.00" y="276.18" font-size="3.38" textLength="4.60" lengthAdjust="spacingAndGlyphs" class="b">Wh</text>
<text x="234.80" y="273.38" font-size="3.9" textLength="17.10" lengthAdjust="spacingAndGlyphs" style="stroke-width:0.15px">MCB-63/C20/2</text>
<line x1="236.20" y1="276.78" x2="240.80" y2="274.58" stroke="#111" stroke-width="0.6"/>
<text x="268.40" y="273.98" font-size="3.9" textLength="5.40" lengthAdjust="spacingAndGlyphs" class="b">WL23</text>
<text x="282.50" y="273.98" font-size="3.9" textLength="45.50" lengthAdjust="spacingAndGlyphs">WDZ-BYJ-3x4-PC20-WC.CC</text>
<text x="330.10" y="272.28" font-size="3.51" textLength="8.80" lengthAdjust="spacingAndGlyphs" style="fill:#222;stroke:#222">AL1-23</text>
<rect x="331.70" y="273.38" width="5.30" height="2.00" fill="#000" stroke="#111" stroke-width="0.2"/>
<text x="339.00" y="272.28" font-size="3.6" textLength="11.00" lengthAdjust="spacingAndGlyphs" class="c">宿舍配电</text>
<text x="339.20" y="276.38" font-size="3.77" textLength="13.20" lengthAdjust="spacingAndGlyphs">Pe=1.0kW</text>
<line x1="213.50" y1="285.00" x2="331.90" y2="285.00" stroke="#111" stroke-width="0.6"/>
<text x="215.20" y="284.10" font-size="3.38" textLength="3.70" lengthAdjust="spacingAndGlyphs" style="fill:#555;stroke:#555;stroke-width:0.06px">L3</text>
<text x="221.30" y="282.00" font-size="4.42" textLength="11.20" lengthAdjust="spacingAndGlyphs" class="b">5(20)A</text>
<rect x="223.30" y="283.50" width="6.30" height="3.60" fill="#fff" stroke="#111" stroke-width="0.6"/>
<text x="224.00" y="286.60" font-size="3.38" textLength="4.60" lengthAdjust="spacingAndGlyphs" class="b">Wh</text>
<text x="234.80" y="283.80" font-size="3.9" textLength="17.10" lengthAdjust="spacingAndGlyphs" style="stroke-width:0.15px">MCB-63/C20/2</text>
<line x1="236.20" y1="287.19" x2="240.80" y2="285.00" stroke="#111" stroke-width="0.6"/>
<text x="268.40" y="284.39" font-size="3.9" textLength="5.40" lengthAdjust="spacingAndGlyphs" class="b">WL24</text>
<text x="282.50" y="284.39" font-size="3.9" textLength="45.50" lengthAdjust="spacingAndGlyphs">WDZ-BYJ-3x4-PC20-WC.CC</text>
<text x="330.10" y="282.69" font-size="3.51" textLength="8.80" lengthAdjust="spacingAndGlyphs" style="fill:#222;stroke:#222">AL1-24</text>
<rect x="331.70" y="283.80" width="5.30" height="2.00" fill="#000" stroke="#111" stroke-width="0.2"/>
<text x="339.00" y="282.69" font-size="3.6" textLength="11.00" lengthAdjust="spacingAndGlyphs" class="c">宿舍配电</text>
<text x="339.20" y="286.80" font-size="3.77" textLength="13.20" lengthAdjust="spacingAndGlyphs">Pe=1.0kW</text>
<line x1="213.50" y1="295.41" x2="331.90" y2="295.41" stroke="#111" stroke-width="0.6"/>
<text x="215.20" y="294.51" font-size="3.38" textLength="3.70" lengthAdjust="spacingAndGlyphs" style="fill:#555;stroke:#555;stroke-width:0.06px">L1</text>
<text x="221.30" y="292.41" font-size="4.42" textLength="11.20" lengthAdjust="spacingAndGlyphs" class="b">5(20)A</text>
<rect x="223.30" y="293.91" width="6.30" height="3.60" fill="#fff" stroke="#111" stroke-width="0.6"/>
<text x="224.00" y="297.01" font-size="3.38" textLength="4.60" lengthAdjust="spacingAndGlyphs" class="b">Wh</text>
<text x="234.80" y="294.21" font-size="3.9" textLength="17.10" lengthAdjust="spacingAndGlyphs" style="stroke-width:0.15px">MCB-63/C20/2</text>
<line x1="236.20" y1="297.61" x2="240.80" y2="295.41" stroke="#111" stroke-width="0.6"/>
<text x="268.40" y="294.81" font-size="3.9" textLength="5.40" lengthAdjust="spacingAndGlyphs" class="b">WL25</text>
<text x="282.50" y="294.81" font-size="3.9" textLength="45.50" lengthAdjust="spacingAndGlyphs">WDZ-BYJ-3x4-PC20-WC.CC</text>
<text x="330.10" y="293.11" font-size="3.51" textLength="8.80" lengthAdjust="spacingAndGlyphs" style="fill:#222;stroke:#222">AL1-25</text>
<rect x="331.70" y="294.21" width="5.30" height="2.00" fill="#000" stroke="#111" stroke-width="0.2"/>
<text x="339.00" y="293.11" font-size="3.6" textLength="11.00" lengthAdjust="spacingAndGlyphs" class="c">宿舍配电</text>
<text x="339.20" y="297.21" font-size="3.77" textLength="13.20" lengthAdjust="spacingAndGlyphs">Pe=1.0kW</text>
<line x1="213.50" y1="305.82" x2="331.90" y2="305.82" stroke="#111" stroke-width="0.6"/>
<text x="215.20" y="304.93" font-size="3.38" textLength="3.70" lengthAdjust="spacingAndGlyphs" style="fill:#555;stroke:#555;stroke-width:0.06px">L2</text>
<text x="221.30" y="302.82" font-size="4.42" textLength="11.20" lengthAdjust="spacingAndGlyphs" class="b">5(20)A</text>
<rect x="223.30" y="304.32" width="6.30" height="3.60" fill="#fff" stroke="#111" stroke-width="0.6"/>
<text x="224.00" y="307.43" font-size="3.38" textLength="4.60" lengthAdjust="spacingAndGlyphs" class="b">Wh</text>
<text x="234.80" y="304.62" font-size="3.9" textLength="17.10" lengthAdjust="spacingAndGlyphs" style="stroke-width:0.15px">MCB-63/C20/2</text>
<line x1="236.20" y1="308.02" x2="240.80" y2="305.82" stroke="#111" stroke-width="0.6"/>
<text x="268.40" y="305.22" font-size="3.9" textLength="5.40" lengthAdjust="spacingAndGlyphs" class="b">WL26</text>
<text x="282.50" y="305.22" font-size="3.9" textLength="45.50" lengthAdjust="spacingAndGlyphs">WDZ-BYJ-3x4-PC20-WC.CC</text>
<text x="330.10" y="303.52" font-size="3.51" textLength="8.80" lengthAdjust="spacingAndGlyphs" style="fill:#222;stroke:#222">AL1-26</text>
<rect x="331.70" y="304.62" width="5.30" height="2.00" fill="#000" stroke="#111" stroke-width="0.2"/>
<text x="339.00" y="303.52" font-size="3.6" textLength="11.00" lengthAdjust="spacingAndGlyphs" class="c">宿舍配电</text>
<text x="339.20" y="307.62" font-size="3.77" textLength="13.20" lengthAdjust="spacingAndGlyphs">Pe=1.0kW</text>
<line x1="213.50" y1="316.24" x2="331.90" y2="316.24" stroke="#111" stroke-width="0.6"/>
<text x="215.20" y="315.34" font-size="3.38" textLength="3.70" lengthAdjust="spacingAndGlyphs" style="fill:#555;stroke:#555;stroke-width:0.06px">L3</text>
<text x="221.30" y="313.24" font-size="4.42" textLength="11.20" lengthAdjust="spacingAndGlyphs" class="b">5(20)A</text>
<rect x="223.30" y="314.74" width="6.30" height="3.60" fill="#fff" stroke="#111" stroke-width="0.6"/>
<text x="224.00" y="317.84" font-size="3.38" textLength="4.60" lengthAdjust="spacingAndGlyphs" class="b">Wh</text>
<text x="234.80" y="315.04" font-size="3.9" textLength="17.10" lengthAdjust="spacingAndGlyphs" style="stroke-width:0.15px">MCB-63/C20/2</text>
<line x1="236.20" y1="318.44" x2="240.80" y2="316.24" stroke="#111" stroke-width="0.6"/>
<text x="268.40" y="315.64" font-size="3.9" textLength="5.40" lengthAdjust="spacingAndGlyphs" class="b">WL27</text>
<text x="282.50" y="315.64" font-size="3.9" textLength="45.50" lengthAdjust="spacingAndGlyphs">WDZ-BYJ-3x4-PC20-WC.CC</text>
<text x="330.10" y="313.94" font-size="3.51" textLength="8.80" lengthAdjust="spacingAndGlyphs" style="fill:#222;stroke:#222">AL1-27</text>
<rect x="331.70" y="315.04" width="5.30" height="2.00" fill="#000" stroke="#111" stroke-width="0.2"/>
<text x="339.00" y="313.94" font-size="3.6" textLength="11.00" lengthAdjust="spacingAndGlyphs" class="c">宿舍配电</text>
<text x="339.20" y="318.04" font-size="3.77" textLength="13.20" lengthAdjust="spacingAndGlyphs">Pe=1.0kW</text>
<line x1="213.50" y1="326.65" x2="331.90" y2="326.65" stroke="#111" stroke-width="0.6"/>
<text x="215.20" y="325.75" font-size="3.38" textLength="3.70" lengthAdjust="spacingAndGlyphs" style="fill:#555;stroke:#555;stroke-width:0.06px">L1</text>
<text x="221.30" y="323.65" font-size="4.42" textLength="11.20" lengthAdjust="spacingAndGlyphs" class="b">5(20)A</text>
<rect x="223.30" y="325.15" width="6.30" height="3.60" fill="#fff" stroke="#111" stroke-width="0.6"/>
<text x="224.00" y="328.25" font-size="3.38" textLength="4.60" lengthAdjust="spacingAndGlyphs" class="b">Wh</text>
<text x="234.80" y="325.45" font-size="3.9" textLength="17.10" lengthAdjust="spacingAndGlyphs" style="stroke-width:0.15px">MCB-63/C20/2</text>
<line x1="236.20" y1="328.85" x2="240.80" y2="326.65" stroke="#111" stroke-width="0.6"/>
<text x="268.40" y="326.05" font-size="3.9" textLength="5.40" lengthAdjust="spacingAndGlyphs" class="b">WL28</text>
<text x="282.50" y="326.05" font-size="3.9" textLength="45.50" lengthAdjust="spacingAndGlyphs">WDZ-BYJ-3x4-PC20-WC.CC</text>
<text x="330.10" y="324.35" font-size="3.51" textLength="8.80" lengthAdjust="spacingAndGlyphs" style="fill:#222;stroke:#222">AL1-28</text>
<rect x="331.70" y="325.45" width="5.30" height="2.00" fill="#000" stroke="#111" stroke-width="0.2"/>
<text x="339.00" y="324.35" font-size="3.6" textLength="11.00" lengthAdjust="spacingAndGlyphs" class="c">宿舍配电</text>
<text x="339.20" y="328.45" font-size="3.77" textLength="13.20" lengthAdjust="spacingAndGlyphs">Pe=1.0kW</text>
<line x1="213.50" y1="337.07" x2="331.90" y2="337.07" stroke="#111" stroke-width="0.6"/>
<text x="215.20" y="336.17" font-size="3.38" textLength="3.70" lengthAdjust="spacingAndGlyphs" style="fill:#555;stroke:#555;stroke-width:0.06px">L2</text>
<text x="221.30" y="334.07" font-size="4.42" textLength="11.20" lengthAdjust="spacingAndGlyphs" class="b">5(20)A</text>
<rect x="223.30" y="335.57" width="6.30" height="3.60" fill="#fff" stroke="#111" stroke-width="0.6"/>
<text x="224.00" y="338.67" font-size="3.38" textLength="4.60" lengthAdjust="spacingAndGlyphs" class="b">Wh</text>
<text x="234.80" y="335.87" font-size="3.9" textLength="17.10" lengthAdjust="spacingAndGlyphs" style="stroke-width:0.15px">MCB-63/C20/2</text>
<line x1="236.20" y1="339.27" x2="240.80" y2="337.07" stroke="#111" stroke-width="0.6"/>
<text x="268.40" y="336.47" font-size="3.9" textLength="5.40" lengthAdjust="spacingAndGlyphs" class="b">WL29</text>
<text x="282.50" y="336.47" font-size="3.9" textLength="45.50" lengthAdjust="spacingAndGlyphs">WDZ-BYJ-3x4-PC20-WC.CC</text>
<text x="330.10" y="334.77" font-size="3.51" textLength="8.80" lengthAdjust="spacingAndGlyphs" style="fill:#222;stroke:#222">AL1-29</text>
<rect x="331.70" y="335.87" width="5.30" height="2.00" fill="#000" stroke="#111" stroke-width="0.2"/>
<text x="339.00" y="334.77" font-size="3.6" textLength="11.00" lengthAdjust="spacingAndGlyphs" class="c">宿舍配电</text>
<text x="339.20" y="338.87" font-size="3.77" textLength="13.20" lengthAdjust="spacingAndGlyphs">Pe=1.0kW</text>
<line x1="213.50" y1="347.48" x2="331.90" y2="347.48" stroke="#111" stroke-width="0.6"/>
<text x="215.20" y="346.58" font-size="3.38" textLength="3.70" lengthAdjust="spacingAndGlyphs" style="fill:#555;stroke:#555;stroke-width:0.06px">L3</text>
<text x="221.30" y="344.48" font-size="4.42" textLength="11.20" lengthAdjust="spacingAndGlyphs" class="b">5(20)A</text>
<rect x="223.30" y="345.98" width="6.30" height="3.60" fill="#fff" stroke="#111" stroke-width="0.6"/>
<text x="224.00" y="349.08" font-size="3.38" textLength="4.60" lengthAdjust="spacingAndGlyphs" class="b">Wh</text>
<text x="234.80" y="346.28" font-size="3.9" textLength="17.10" lengthAdjust="spacingAndGlyphs" style="stroke-width:0.15px">MCB-63/C20/2</text>
<line x1="236.20" y1="349.68" x2="240.80" y2="347.48" stroke="#111" stroke-width="0.6"/>
<text x="268.40" y="346.88" font-size="3.9" textLength="5.40" lengthAdjust="spacingAndGlyphs" class="b">WL30</text>
<text x="282.50" y="346.88" font-size="3.9" textLength="45.50" lengthAdjust="spacingAndGlyphs">WDZ-BYJ-3x4-PC20-WC.CC</text>
<text x="330.10" y="345.18" font-size="3.51" textLength="8.80" lengthAdjust="spacingAndGlyphs" style="fill:#222;stroke:#222">AL1-30</text>
<rect x="331.70" y="346.28" width="5.30" height="2.00" fill="#000" stroke="#111" stroke-width="0.2"/>
<text x="339.00" y="345.18" font-size="3.6" textLength="11.00" lengthAdjust="spacingAndGlyphs" class="c">宿舍配电</text>
<text x="339.20" y="349.28" font-size="3.77" textLength="13.20" lengthAdjust="spacingAndGlyphs">Pe=1.0kW</text>
<line x1="213.50" y1="357.90" x2="331.90" y2="357.90" stroke="#111" stroke-width="0.6"/>
<text x="215.20" y="357.00" font-size="3.38" textLength="3.70" lengthAdjust="spacingAndGlyphs" style="fill:#555;stroke:#555;stroke-width:0.06px">L1</text>
<text x="221.30" y="354.90" font-size="4.42" textLength="11.20" lengthAdjust="spacingAndGlyphs" class="b">5(20)A</text>
<rect x="223.30" y="356.40" width="6.30" height="3.60" fill="#fff" stroke="#111" stroke-width="0.6"/>
<text x="224.00" y="359.50" font-size="3.38" textLength="4.60" lengthAdjust="spacingAndGlyphs" class="b">Wh</text>
<text x="234.80" y="356.70" font-size="3.9" textLength="17.10" lengthAdjust="spacingAndGlyphs" style="stroke-width:0.15px">MCB-63/C20/2</text>
<line x1="236.20" y1="360.10" x2="240.80" y2="357.90" stroke="#111" stroke-width="0.6"/>
<text x="268.40" y="357.30" font-size="3.9" textLength="5.40" lengthAdjust="spacingAndGlyphs" class="b">WL31</text>
<text x="282.50" y="357.30" font-size="3.9" textLength="45.50" lengthAdjust="spacingAndGlyphs">WDZ-BYJ-3x4-PC20-WC.CC</text>
<text x="330.10" y="355.60" font-size="3.51" textLength="8.80" lengthAdjust="spacingAndGlyphs" style="fill:#222;stroke:#222">AL1-31</text>
<rect x="331.70" y="356.70" width="5.30" height="2.00" fill="#000" stroke="#111" stroke-width="0.2"/>
<text x="339.00" y="355.60" font-size="3.6" textLength="11.00" lengthAdjust="spacingAndGlyphs" class="c">宿舍配电</text>
<text x="339.20" y="359.70" font-size="3.77" textLength="13.20" lengthAdjust="spacingAndGlyphs">Pe=1.0kW</text>
<line x1="213.50" y1="368.31" x2="331.90" y2="368.31" stroke="#111" stroke-width="0.6"/>
<text x="215.20" y="367.41" font-size="3.38" textLength="3.70" lengthAdjust="spacingAndGlyphs" style="fill:#555;stroke:#555;stroke-width:0.06px">L2</text>
<text x="221.30" y="365.31" font-size="4.42" textLength="11.20" lengthAdjust="spacingAndGlyphs" class="b">5(20)A</text>
<rect x="223.30" y="366.81" width="6.30" height="3.60" fill="#fff" stroke="#111" stroke-width="0.6"/>
<text x="224.00" y="369.91" font-size="3.38" textLength="4.60" lengthAdjust="spacingAndGlyphs" class="b">Wh</text>
<text x="234.80" y="367.11" font-size="3.9" textLength="17.10" lengthAdjust="spacingAndGlyphs" style="stroke-width:0.15px">MCB-63/C20/2</text>
<line x1="236.20" y1="370.51" x2="240.80" y2="368.31" stroke="#111" stroke-width="0.6"/>
<text x="268.40" y="367.71" font-size="3.9" textLength="5.40" lengthAdjust="spacingAndGlyphs" class="b">WL32</text>
<text x="282.50" y="367.71" font-size="3.9" textLength="45.50" lengthAdjust="spacingAndGlyphs">WDZ-BYJ-3x4-PC20-WC.CC</text>
<text x="330.10" y="366.01" font-size="3.51" textLength="8.80" lengthAdjust="spacingAndGlyphs" style="fill:#222;stroke:#222">AL1-32</text>
<rect x="331.70" y="367.11" width="5.30" height="2.00" fill="#000" stroke="#111" stroke-width="0.2"/>
<text x="339.00" y="366.01" font-size="3.6" textLength="11.00" lengthAdjust="spacingAndGlyphs" class="c">宿舍配电</text>
<text x="339.20" y="370.11" font-size="3.77" textLength="13.20" lengthAdjust="spacingAndGlyphs">Pe=1.0kW</text>
<line x1="213.50" y1="378.73" x2="331.90" y2="378.73" stroke="#111" stroke-width="0.6"/>
<text x="215.20" y="377.83" font-size="3.38" textLength="3.70" lengthAdjust="spacingAndGlyphs" style="fill:#555;stroke:#555;stroke-width:0.06px">L3</text>
<text x="234.80" y="377.53" font-size="3.9" textLength="17.10" lengthAdjust="spacingAndGlyphs" style="stroke-width:0.15px">MCB-63/C20/2</text>
<line x1="236.20" y1="380.93" x2="240.80" y2="378.73" stroke="#111" stroke-width="0.6"/>
<text x="340.00" y="377.53" font-size="3.5" textLength="4.20" lengthAdjust="spacingAndGlyphs" class="c">备用</text>
<line x1="213.50" y1="389.14" x2="331.90" y2="389.14" stroke="#111" stroke-width="0.6"/>
<text x="215.20" y="388.25" font-size="3.38" textLength="3.70" lengthAdjust="spacingAndGlyphs" style="fill:#555;stroke:#555;stroke-width:0.06px">L1</text>
<text x="234.80" y="387.94" font-size="3.9" textLength="17.10" lengthAdjust="spacingAndGlyphs" style="stroke-width:0.15px">MCB-63/C20/2</text>
<line x1="236.20" y1="391.34" x2="240.80" y2="389.14" stroke="#111" stroke-width="0.6"/>
<text x="340.00" y="387.94" font-size="3.5" textLength="4.20" lengthAdjust="spacingAndGlyphs" class="c">备用</text>
<line x1="213.50" y1="399.56" x2="331.90" y2="399.56" stroke="#111" stroke-width="0.6"/>
<text x="215.20" y="398.66" font-size="3.38" textLength="3.70" lengthAdjust="spacingAndGlyphs" style="fill:#555;stroke:#555;stroke-width:0.06px">L2</text>
<text x="232.80" y="398.36" font-size="3.9" textLength="19.80" lengthAdjust="spacingAndGlyphs" class="m">MCB-63/C16/2P</text>
<line x1="236.20" y1="402.16" x2="240.80" y2="400.16" stroke="#111" stroke-width="0.6"/>
<text x="268.40" y="398.56" font-size="3.9" textLength="5.20" lengthAdjust="spacingAndGlyphs">WX1</text>
<text x="282.50" y="398.56" font-size="3.9" textLength="52.00" lengthAdjust="spacingAndGlyphs" class="m">WDZ-BYJ-3x2.5-MR-PC20-FC.WC.CC</text>
<text x="340.00" y="397.76" font-size="3.5" textLength="4.00" lengthAdjust="spacingAndGlyphs" class="c">插座</text>
<text x="338.50" y="401.46" font-size="3.9" textLength="13.00" lengthAdjust="spacingAndGlyphs">Pe=0.5kW</text>
<line x1="213.50" y1="409.97" x2="331.90" y2="409.97" stroke="#111" stroke-width="0.6"/>
<text x="215.20" y="409.07" font-size="3.38" textLength="3.70" lengthAdjust="spacingAndGlyphs" style="fill:#555;stroke:#555;stroke-width:0.06px">L3</text>
<text x="232.80" y="408.77" font-size="3.9" textLength="19.80" lengthAdjust="spacingAndGlyphs" class="m">MCB-63/C16/2P</text>
<line x1="236.20" y1="412.57" x2="240.80" y2="410.57" stroke="#111" stroke-width="0.6"/>
<text x="268.40" y="408.97" font-size="3.9" textLength="5.20" lengthAdjust="spacingAndGlyphs">WX2</text>
<text x="282.50" y="408.97" font-size="3.9" textLength="52.00" lengthAdjust="spacingAndGlyphs" class="m">WDZ-BYJ-3x2.5-MR-PC20-FC.WC.CC</text>
<text x="340.00" y="408.17" font-size="3.5" textLength="4.00" lengthAdjust="spacingAndGlyphs" class="c">插座</text>
<text x="338.50" y="411.87" font-size="3.9" textLength="13.00" lengthAdjust="spacingAndGlyphs">Pe=0.5kW</text>
<line x1="213.50" y1="420.39" x2="331.90" y2="420.39" stroke="#111" stroke-width="0.6"/>
<text x="215.20" y="419.49" font-size="3.38" textLength="3.70" lengthAdjust="spacingAndGlyphs" style="fill:#555;stroke:#555;stroke-width:0.06px">L1</text>
<text x="232.80" y="419.19" font-size="3.9" textLength="19.80" lengthAdjust="spacingAndGlyphs" class="m">MCB-63/C16/2P</text>
<line x1="236.20" y1="422.99" x2="240.80" y2="420.99" stroke="#111" stroke-width="0.6"/>
<text x="268.40" y="419.39" font-size="3.9" textLength="5.20" lengthAdjust="spacingAndGlyphs">WX3</text>
<text x="282.50" y="419.39" font-size="3.9" textLength="52.00" lengthAdjust="spacingAndGlyphs" class="m">WDZ-BYJ-3x2.5-MR-PC20-FC.WC.CC</text>
<text x="340.00" y="418.59" font-size="3.5" textLength="4.00" lengthAdjust="spacingAndGlyphs" class="c">插座</text>
<text x="338.50" y="422.29" font-size="3.9" textLength="13.00" lengthAdjust="spacingAndGlyphs">Pe=0.5kW</text>
<line x1="213.50" y1="430.80" x2="331.90" y2="430.80" stroke="#111" stroke-width="0.6"/>
<text x="215.20" y="429.90" font-size="3.38" textLength="3.70" lengthAdjust="spacingAndGlyphs" style="fill:#555;stroke:#555;stroke-width:0.06px">L2</text>
<text x="232.80" y="429.60" font-size="3.9" textLength="19.80" lengthAdjust="spacingAndGlyphs" class="m">MCB-63/C16/2P</text>
<line x1="236.20" y1="433.40" x2="240.80" y2="431.40" stroke="#111" stroke-width="0.6"/>
<text x="268.40" y="429.80" font-size="3.9" textLength="5.20" lengthAdjust="spacingAndGlyphs">WX4</text>
<text x="282.50" y="429.80" font-size="3.9" textLength="52.00" lengthAdjust="spacingAndGlyphs" class="m">WDZ-BYJ-3x2.5-MR-PC20-FC.WC.CC</text>
<text x="340.00" y="429.00" font-size="3.5" textLength="4.00" lengthAdjust="spacingAndGlyphs" class="c">插座</text>
<text x="338.50" y="432.70" font-size="3.9" textLength="13.00" lengthAdjust="spacingAndGlyphs">Pe=0.5kW</text>
<line x1="213.50" y1="441.22" x2="331.90" y2="441.22" stroke="#111" stroke-width="0.6"/>
<text x="215.20" y="440.32" font-size="3.38" textLength="3.70" lengthAdjust="spacingAndGlyphs" style="fill:#555;stroke:#555;stroke-width:0.06px">L3</text>
<text x="232.80" y="440.02" font-size="3.9" textLength="19.80" lengthAdjust="spacingAndGlyphs" class="m">MCB-63/C16/2P</text>
<line x1="236.20" y1="443.82" x2="240.80" y2="441.82" stroke="#111" stroke-width="0.6"/>
<text x="268.40" y="440.22" font-size="3.9" textLength="5.20" lengthAdjust="spacingAndGlyphs">WX5</text>
<text x="282.50" y="440.22" font-size="3.9" textLength="52.00" lengthAdjust="spacingAndGlyphs" class="m">WDZ-BYJ-3x2.5-MR-PC20-FC.WC.CC</text>
<text x="340.00" y="439.42" font-size="3.5" textLength="4.00" lengthAdjust="spacingAndGlyphs" class="c">插座</text>
<text x="338.50" y="443.12" font-size="3.9" textLength="13.00" lengthAdjust="spacingAndGlyphs">Pe=0.5kW</text>
<line x1="213.50" y1="451.63" x2="331.90" y2="451.63" stroke="#111" stroke-width="0.6"/>
<text x="215.20" y="450.73" font-size="3.38" textLength="3.70" lengthAdjust="spacingAndGlyphs" style="fill:#555;stroke:#555;stroke-width:0.06px">L1</text>
<text x="232.80" y="450.43" font-size="3.9" textLength="19.80" lengthAdjust="spacingAndGlyphs" class="m">MCB-63/C16/2P</text>
<line x1="236.80" y1="453.63" x2="241.60" y2="451.63" stroke="#111" stroke-width="0.6"/>
<text x="241.50" y="454.83" font-size="3.77" textLength="6.20" lengthAdjust="spacingAndGlyphs" class="b">30mA</text>
<text x="269.00" y="450.63" font-size="3.9" textLength="3.00" lengthAdjust="spacingAndGlyphs">/1</text>
<text x="282.40" y="450.63" font-size="3.9" textLength="49.30" lengthAdjust="spacingAndGlyphs" class="m">WDZ-BYJ-3x2.5-MR-PC20-FC.WC.CC</text>
<text x="334.40" y="449.03" font-size="3.5" textLength="22.70" lengthAdjust="spacingAndGlyphs" class="c">热水器插座(带开关)</text>
<text x="339.50" y="453.03" font-size="3.9" textLength="11.50" lengthAdjust="spacingAndGlyphs">Pe=2.0kW</text>
<line x1="213.50" y1="462.05" x2="331.90" y2="462.05" stroke="#111" stroke-width="0.6"/>
<text x="215.20" y="461.15" font-size="3.38" textLength="3.70" lengthAdjust="spacingAndGlyphs" style="fill:#555;stroke:#555;stroke-width:0.06px">L2</text>
<text x="232.80" y="460.85" font-size="3.9" textLength="19.80" lengthAdjust="spacingAndGlyphs" class="m">MCB-63/C16/2P</text>
<line x1="236.80" y1="464.05" x2="241.60" y2="462.05" stroke="#111" stroke-width="0.6"/>
<text x="241.50" y="465.25" font-size="3.77" textLength="6.20" lengthAdjust="spacingAndGlyphs" class="b">30mA</text>
<text x="269.00" y="461.05" font-size="3.9" textLength="3.00" lengthAdjust="spacingAndGlyphs">/2</text>
<text x="282.40" y="461.05" font-size="3.9" textLength="49.30" lengthAdjust="spacingAndGlyphs" class="m">WDZ-BYJ-3x2.5-MR-PC20-FC.WC.CC</text>
<text x="340.50" y="459.45" font-size="3.5" textLength="10.50" lengthAdjust="spacingAndGlyphs" class="c">空调插座</text>
<text x="339.50" y="463.45" font-size="3.9" textLength="11.50" lengthAdjust="spacingAndGlyphs">Pe=2.0kW</text>
<line x1="213.50" y1="472.46" x2="331.90" y2="472.46" stroke="#111" stroke-width="0.6"/>
<text x="215.20" y="471.56" font-size="3.38" textLength="3.70" lengthAdjust="spacingAndGlyphs" style="fill:#555;stroke:#555;stroke-width:0.06px">L3</text>
<text x="232.80" y="471.26" font-size="3.9" textLength="19.80" lengthAdjust="spacingAndGlyphs" class="m">MCB-63/C16/2P</text>
<line x1="236.80" y1="474.46" x2="241.60" y2="472.46" stroke="#111" stroke-width="0.6"/>
<text x="241.50" y="475.66" font-size="3.77" textLength="6.20" lengthAdjust="spacingAndGlyphs" class="b">30mA</text>
<text x="340.50" y="471.26" font-size="3.5" textLength="4.20" lengthAdjust="spacingAndGlyphs" class="c">备用</text>
<line x1="213.50" y1="482.88" x2="331.90" y2="482.88" stroke="#111" stroke-width="0.6"/>
<text x="215.20" y="481.98" font-size="3.38" textLength="3.70" lengthAdjust="spacingAndGlyphs" style="fill:#555;stroke:#555;stroke-width:0.06px">L1</text>
<text x="232.80" y="481.68" font-size="3.9" textLength="19.80" lengthAdjust="spacingAndGlyphs" class="m">MCB-63/C16/2P</text>
<line x1="236.80" y1="484.88" x2="241.60" y2="482.88" stroke="#111" stroke-width="0.6"/>
<text x="241.50" y="486.08" font-size="3.77" textLength="6.20" lengthAdjust="spacingAndGlyphs" class="b">30mA</text>
<text x="269.00" y="481.88" font-size="3.9" textLength="3.00" lengthAdjust="spacingAndGlyphs">/4</text>
<text x="282.40" y="481.88" font-size="3.9" textLength="49.30" lengthAdjust="spacingAndGlyphs">WDZN-BYJ-3x4-PC20-MR-SC20-WC.CC</text>
<rect x="331.90" y="482.28" width="5.10" height="1.60" fill="#000" stroke="#111" stroke-width="0.3"/>
<text x="327.40" y="487.28" font-size="3.64" textLength="9.60" lengthAdjust="spacingAndGlyphs">JX-ZM1</text>
<text x="340.50" y="480.88" font-size="3.5" textLength="15.00" lengthAdjust="spacingAndGlyphs" class="c">应急照明箱</text>
<text x="339.50" y="484.48" font-size="3.9" textLength="12.50" lengthAdjust="spacingAndGlyphs">Pe=1.0kW</text>
<line x1="213.50" y1="493.29" x2="331.90" y2="493.29" stroke="#111" stroke-width="0.6"/>
<text x="215.60" y="492.29" font-size="3.9" textLength="2.80" lengthAdjust="spacingAndGlyphs" class="b">3L</text>
<text x="232.00" y="492.09" font-size="3.9" textLength="23.50" lengthAdjust="spacingAndGlyphs" class="m">MCB-63/C40/4P 40A</text>
<line x1="236.30" y1="495.49" x2="241.60" y2="493.29" stroke="#111" stroke-width="0.6"/>
<text x="268.40" y="492.29" font-size="3.9" textLength="3.60" lengthAdjust="spacingAndGlyphs">W1</text>
<text x="282.40" y="492.29" font-size="3.9" textLength="49.30" lengthAdjust="spacingAndGlyphs">WDZ-YJY-4x25+1x16-MR-SC50-WC.CC</text>
<rect x="331.90" y="492.69" width="5.10" height="1.60" fill="#000" stroke="#111" stroke-width="0.3"/>
<text x="327.40" y="497.69" font-size="3.64" textLength="9.60" lengthAdjust="spacingAndGlyphs">JX-1AP</text>
<text x="340.00" y="491.29" font-size="3.9" textLength="7.50" lengthAdjust="spacingAndGlyphs">JX-1a</text>
<text x="347.60" y="491.29" font-size="3.5" textLength="7.60" lengthAdjust="spacingAndGlyphs" class="c">电梯箱</text>
<text x="339.50" y="494.89" font-size="3.9" textLength="11.50" lengthAdjust="spacingAndGlyphs">Pe=15kW</text>
<line x1="213.50" y1="503.71" x2="331.90" y2="503.71" stroke="#111" stroke-width="0.6"/>
<text x="215.60" y="502.71" font-size="3.9" textLength="2.80" lengthAdjust="spacingAndGlyphs" class="b">3L</text>
<text x="232.00" y="502.51" font-size="3.9" textLength="23.50" lengthAdjust="spacingAndGlyphs" class="m">MCB-63/C40/4P 40A</text>
<line x1="236.30" y1="505.91" x2="241.60" y2="503.71" stroke="#111" stroke-width="0.6"/>
<text x="268.40" y="502.71" font-size="3.9" textLength="3.60" lengthAdjust="spacingAndGlyphs">W2</text>
<text x="282.40" y="502.71" font-size="3.9" textLength="49.30" lengthAdjust="spacingAndGlyphs">WDZ-YJY-4x25+1x16-MR-SC50-WC.CC</text>
<rect x="331.90" y="503.11" width="5.10" height="1.60" fill="#000" stroke="#111" stroke-width="0.3"/>
<text x="327.40" y="508.11" font-size="3.64" textLength="9.60" lengthAdjust="spacingAndGlyphs">JX-2AP</text>
<text x="340.00" y="501.71" font-size="3.9" textLength="7.50" lengthAdjust="spacingAndGlyphs">JX-2a</text>
<text x="347.60" y="501.71" font-size="3.5" textLength="7.60" lengthAdjust="spacingAndGlyphs" class="c">电梯箱</text>
<text x="339.50" y="505.31" font-size="3.9" textLength="11.50" lengthAdjust="spacingAndGlyphs">Pe=15kW</text>
<line x1="213.50" y1="514.12" x2="331.90" y2="514.12" stroke="#111" stroke-width="0.6"/>
<text x="215.60" y="513.12" font-size="3.9" textLength="2.80" lengthAdjust="spacingAndGlyphs" class="b">3L</text>
<text x="232.00" y="512.92" font-size="3.9" textLength="23.50" lengthAdjust="spacingAndGlyphs" class="m">MCB-63/C40/4P 40A</text>
<line x1="236.30" y1="516.33" x2="241.60" y2="514.12" stroke="#111" stroke-width="0.6"/>
<text x="268.40" y="513.12" font-size="3.9" textLength="3.60" lengthAdjust="spacingAndGlyphs">W3</text>
<text x="282.40" y="513.12" font-size="3.9" textLength="49.30" lengthAdjust="spacingAndGlyphs">WDZ-YJY-4x25+1x16-MR-SC50-WC.CC</text>
<rect x="331.90" y="513.52" width="5.10" height="1.60" fill="#000" stroke="#111" stroke-width="0.3"/>
<text x="327.40" y="518.52" font-size="3.64" textLength="9.60" lengthAdjust="spacingAndGlyphs">JX-3AP</text>
<text x="340.00" y="512.12" font-size="3.9" textLength="7.50" lengthAdjust="spacingAndGlyphs">JX-3a</text>
<text x="347.60" y="512.12" font-size="3.5" textLength="7.60" lengthAdjust="spacingAndGlyphs" class="c">电梯箱</text>
<text x="339.50" y="515.73" font-size="3.9" textLength="11.50" lengthAdjust="spacingAndGlyphs">Pe=15kW</text>
<rect x="200.20" y="487.30" width="187.20" height="37.10" fill="none" stroke="#111" stroke-width="0.8"/>
<text x="218.00" y="524.50" font-size="3.77" textLength="17.00" lengthAdjust="spacingAndGlyphs" class="b">1BUSBAR-SPD</text>
<line x1="213.50" y1="526.30" x2="238.50" y2="526.30" stroke="#111" stroke-width="0.6"/>
<line x1="236.80" y1="528.20" x2="242.00" y2="525.90" stroke="#111" stroke-width="0.6"/>
<text x="243.80" y="527.50" font-size="3.38" textLength="9.50" lengthAdjust="spacingAndGlyphs">40kA</text>
<text x="216.90" y="532.30" font-size="3.2" textLength="38.00" lengthAdjust="spacingAndGlyphs" class="c">TYTE型SPD 浪涌保护器 8kA-Q</text>
<text x="216.90" y="536.20" font-size="3.64" textLength="28.00" lengthAdjust="spacingAndGlyphs" class="b">Imax=40kA,Up≤2.5kV</text>
<rect x="130.80" y="156.50" width="85.15" height="43.90" fill="none" stroke="#111" stroke-width="0.7"/>
<line x1="172.25" y1="35.60" x2="172.25" y2="35.60" stroke="#111" stroke-width="0.6"/>
<line x1="141.90" y1="181.00" x2="213.50" y2="181.00" stroke="#111" stroke-width="0.6"/>
<text x="141.90" y="168.70" font-size="3.9" textLength="30.60" lengthAdjust="spacingAndGlyphs" style="fill:#555;stroke:#555">WDZ-YJY-4x35+1x16</text>
<text x="141.90" y="173.00" font-size="3.9" textLength="25.00" lengthAdjust="spacingAndGlyphs" style="fill:#333;stroke:#333">CT50-K.SC50-FC</text>
<text x="141.90" y="177.60" font-size="3.4" textLength="15.60" lengthAdjust="spacingAndGlyphs" class="c" style="stroke-width:0.3px">由1层配电</text>
<text x="141.90" y="186.30" font-size="3.2" textLength="20.50" lengthAdjust="spacingAndGlyphs">引自1#变电所</text>
<text x="174.40" y="172.90" font-size="3.9" textLength="26.80" lengthAdjust="spacingAndGlyphs" class="c" style="stroke-width:0.35px">总开关(带分励脱扣)</text>
<text x="178.80" y="177.60" font-size="3.51" textLength="30.00" lengthAdjust="spacingAndGlyphs">NM1-125S/3300 63A</text>
<line x1="189.40" y1="182.80" x2="197.50" y2="180.50" stroke="#111" stroke-width="0.6"/>
<text x="189.40" y="186.90" font-size="3.9" textLength="8.10" lengthAdjust="spacingAndGlyphs" class="b">300mA</text>
<line x1="208.40" y1="177.50" x2="208.40" y2="179.80" stroke="#111" stroke-width="0.5"/>
<line x1="207.40" y1="177.60" x2="208.60" y2="175.40" stroke="#111" stroke-width="0.5"/>
<line x1="208.80" y1="177.80" x2="210.00" y2="175.60" stroke="#111" stroke-width="0.5"/>
<circle cx="208.4" cy="180.6" r="0.75" fill="none" stroke="#111" stroke-width="0.45"/>
<line x1="208.40" y1="181.40" x2="208.40" y2="183.40" stroke="#111" stroke-width="0.5"/>
<circle cx="208.4" cy="184.2" r="0.75" fill="none" stroke="#111" stroke-width="0.45"/>
<line x1="207.20" y1="185.60" x2="209.60" y2="185.60" stroke="#111" stroke-width="0.45"/>
<line x1="208.40" y1="185.00" x2="208.40" y2="187.40" stroke="#111" stroke-width="0.5"/>
<line x1="207.60" y1="189.60" x2="209.80" y2="187.80" stroke="#111" stroke-width="0.5"/>
<line x1="209.80" y1="189.20" x2="212.60" y2="189.20" stroke="#111" stroke-width="0.5"/>
<text x="202.40" y="190.50" font-size="3.38" textLength="5.00" lengthAdjust="spacingAndGlyphs">HJ5</text>
<rect x="205.50" y="191.50" width="5.60" height="4.50" fill="#fff" stroke="#111" stroke-width="0.6"/>
<text x="206.30" y="195.20" font-size="3.25" textLength="4.10" lengthAdjust="spacingAndGlyphs" class="b">SPD</text>
<line x1="206.60" y1="196.20" x2="208.40" y2="200.20" stroke="#111" stroke-width="0.5"/>
<line x1="210.00" y1="196.20" x2="208.40" y2="200.20" stroke="#111" stroke-width="0.5"/>
<line x1="207.20" y1="198.20" x2="209.60" y2="198.20" stroke="#111" stroke-width="0.5"/>
<line x1="145.20" y1="203.20" x2="176.90" y2="203.20" stroke="#999" stroke-width="1.3"/>
<text x="150.00" y="201.20" font-size="3.9" textLength="11.20" lengthAdjust="spacingAndGlyphs">ZR-RVS</text>
<text x="146.90" y="207.40" font-size="3.6" textLength="17.50" lengthAdjust="spacingAndGlyphs" class="c" style="stroke-width:0.35px">火灾报警系统</text>
<rect x="176.90" y="197.60" width="18.10" height="9.90" fill="#fff" stroke="#777" stroke-width="0.8" rx="1.2"/>
<text x="179.20" y="204.00" font-size="4.16" textLength="13.50" lengthAdjust="spacingAndGlyphs" style="fill:#666;stroke:#666">PPC-580</text>
<text x="177.50" y="213.40" font-size="3.7" textLength="13.20" lengthAdjust="spacingAndGlyphs" class="c" style="stroke-width:0.35px">电气火灾监控</text>
<rect x="385.50" y="48.00" width="81.60" height="74.30" fill="none" stroke="#111" stroke-width="0.7" stroke-dasharray="2.5 1.2"/>
<line x1="427.70" y1="61.00" x2="427.70" y2="114.80" stroke="#111" stroke-width="0.6"/>
<line x1="361.80" y1="90.45" x2="427.70" y2="90.45" stroke="#111" stroke-width="0.6"/>
<text x="399.40" y="87.85" font-size="3.9" textLength="16.60" lengthAdjust="spacingAndGlyphs">MCB-63/C25/2</text>
<line x1="407.00" y1="92.75" x2="413.00" y2="90.45" stroke="#111" stroke-width="0.6"/>
<text x="388.40" y="52.00" font-size="2.6" textLength="59.50" lengthAdjust="spacingAndGlyphs" style="stroke-width:0.12px">AL1-1(AL1-2~8,AL2-1~16,AL3-1~12同)</text>
<text x="388.40" y="56.30" font-size="3.4" textLength="23.00" lengthAdjust="spacingAndGlyphs" class="c">宿舍配电箱 非标20回路</text>
<text x="388.40" y="59.80" font-size="3.64" textLength="11.50" lengthAdjust="spacingAndGlyphs">Pe=3.0kW</text>
<text x="388.40" y="63.30" font-size="3.64" textLength="8.00" lengthAdjust="spacingAndGlyphs">Kx=1.0</text>
<text x="388.40" y="66.80" font-size="3.64" textLength="11.00" lengthAdjust="spacingAndGlyphs">Pjs=3kW</text>
<text x="388.40" y="70.30" font-size="3.64" textLength="13.00" lengthAdjust="spacingAndGlyphs">cosø=0.85</text>
<text x="388.40" y="73.80" font-size="3.64" textLength="11.50" lengthAdjust="spacingAndGlyphs">Ijs=16.0A</text>
<text x="361.80" y="74.50" font-size="3.9" textLength="15.50" lengthAdjust="spacingAndGlyphs">ZRA-BV-3x6</text>
<text x="361.80" y="78.95" font-size="3.9" textLength="24.30" lengthAdjust="spacingAndGlyphs">(ZRA-WDZ-BYJ-3x6)</text>
<text x="361.80" y="83.40" font-size="3.9" textLength="23.50" lengthAdjust="spacingAndGlyphs">(ZRA-BVV 3x6-ZR)</text>
<text x="361.80" y="87.85" font-size="3.9" textLength="21.00" lengthAdjust="spacingAndGlyphs">(ZRA-WDZ-BYJ-3)</text>
<line x1="427.70" y1="70.60" x2="534.80" y2="70.60" stroke="#111" stroke-width="0.6"/>
<text x="436.30" y="69.00" font-size="3.9" textLength="18.90" lengthAdjust="spacingAndGlyphs">MCB-63/C16/2P</text>
<line x1="439.50" y1="72.70" x2="444.50" y2="70.60" stroke="#111" stroke-width="0.6"/>
<text x="471.60" y="69.20" font-size="3.9" textLength="5.70" lengthAdjust="spacingAndGlyphs">WX1</text>
<text x="485.60" y="69.20" font-size="3.9" textLength="47.70" lengthAdjust="spacingAndGlyphs">WDZ-BYJ-3x2.5-PC20-FC.WC.CC</text>
<text x="539.00" y="68.40" font-size="3.5" textLength="4.00" lengthAdjust="spacingAndGlyphs" class="c">照明</text>
<text x="539.00" y="71.90" font-size="3.64" textLength="11.60" lengthAdjust="spacingAndGlyphs">Pe=0.5kW</text>
<line x1="427.70" y1="80.40" x2="534.80" y2="80.40" stroke="#111" stroke-width="0.6"/>
<text x="436.30" y="78.80" font-size="3.9" textLength="18.90" lengthAdjust="spacingAndGlyphs">MCB-63/C16/2P</text>
<line x1="439.50" y1="82.50" x2="444.50" y2="80.40" stroke="#111" stroke-width="0.6"/>
<text x="443.20" y="84.00" font-size="3.77" textLength="8.00" lengthAdjust="spacingAndGlyphs" class="b">30mA</text>
<text x="471.60" y="79.00" font-size="3.9" textLength="5.70" lengthAdjust="spacingAndGlyphs">WX2</text>
<text x="485.60" y="79.00" font-size="3.9" textLength="47.70" lengthAdjust="spacingAndGlyphs">WDZ-BYJ-3x2.5-PC20-FC.WC.CC</text>
<text x="539.00" y="78.20" font-size="3.5" textLength="4.00" lengthAdjust="spacingAndGlyphs" class="c">插座</text>
<text x="539.00" y="81.70" font-size="3.64" textLength="11.60" lengthAdjust="spacingAndGlyphs">Pe=1.0kW</text>
<line x1="427.70" y1="90.45" x2="534.80" y2="90.45" stroke="#111" stroke-width="0.6"/>
<text x="436.30" y="88.85" font-size="3.9" textLength="18.90" lengthAdjust="spacingAndGlyphs">MCB-63/C16/2P</text>
<line x1="439.50" y1="92.55" x2="444.50" y2="90.45" stroke="#111" stroke-width="0.6"/>
<text x="471.60" y="89.05" font-size="3.9" textLength="5.70" lengthAdjust="spacingAndGlyphs">WX3</text>
<text x="485.60" y="89.05" font-size="3.9" textLength="47.70" lengthAdjust="spacingAndGlyphs">WDZ-BYJ-3x2.5-PC20-FC.WC.CC</text>
<text x="539.00" y="88.25" font-size="3.5" textLength="11.10" lengthAdjust="spacingAndGlyphs" class="c">卫生间插座</text>
<text x="539.00" y="91.75" font-size="3.64" textLength="11.60" lengthAdjust="spacingAndGlyphs">Pe=1.5kW</text>
<line x1="427.70" y1="101.30" x2="534.80" y2="101.30" stroke="#111" stroke-width="0.6"/>
<text x="436.30" y="99.70" font-size="3.9" textLength="18.90" lengthAdjust="spacingAndGlyphs">MCB-63/C16/2P</text>
<line x1="439.50" y1="103.40" x2="444.50" y2="101.30" stroke="#111" stroke-width="0.6"/>
<text x="392.40" y="117.10" font-size="3.6" class="c">箱</text>
<rect x="385.50" y="132.40" width="81.60" height="80.90" fill="none" stroke="#111" stroke-width="0.7" stroke-dasharray="2.5 1.2"/>
<line x1="427.70" y1="145.30" x2="427.70" y2="206.30" stroke="#111" stroke-width="0.6"/>
<line x1="361.80" y1="175.45" x2="427.70" y2="175.45" stroke="#111" stroke-width="0.6"/>
<text x="399.40" y="172.85" font-size="3.9" textLength="16.60" lengthAdjust="spacingAndGlyphs">MCB-63/C25/2</text>
<line x1="407.00" y1="177.75" x2="413.00" y2="175.45" stroke="#111" stroke-width="0.6"/>
<text x="388.40" y="137.00" font-size="3.38" textLength="26.80" lengthAdjust="spacingAndGlyphs" style="stroke-width:0.12px">AL1-9(AL1-10,AL3-3)</text>
<text x="388.40" y="141.30" font-size="3.9" textLength="38.60" lengthAdjust="spacingAndGlyphs" class="c" style="stroke-width:0.32px">宿舍配电箱, 非标20回路, 带应急照明</text>
<text x="388.40" y="144.80" font-size="3.64" textLength="12.00" lengthAdjust="spacingAndGlyphs">Pe=3.5kW</text>
<text x="388.40" y="148.30" font-size="3.64" textLength="8.00" lengthAdjust="spacingAndGlyphs">Kx=1.0</text>
<text x="388.40" y="151.80" font-size="3.64" textLength="13.50" lengthAdjust="spacingAndGlyphs">Pjs=3.5kW</text>
<text x="388.40" y="155.30" font-size="3.64" textLength="13.00" lengthAdjust="spacingAndGlyphs">cosø=0.85</text>
<text x="388.40" y="158.80" font-size="3.64" textLength="11.50" lengthAdjust="spacingAndGlyphs">Ijs=18.7A</text>
<text x="361.80" y="168.40" font-size="3.9" textLength="15.50" lengthAdjust="spacingAndGlyphs">ZRA-BV-3x6</text>
<text x="361.80" y="172.85" font-size="3.9" textLength="21.10" lengthAdjust="spacingAndGlyphs">(ZRA-WDZ-BYJ-3x6)</text>
<line x1="427.70" y1="154.40" x2="534.80" y2="154.40" stroke="#111" stroke-width="0.6"/>
<text x="436.30" y="152.80" font-size="3.9" textLength="18.90" lengthAdjust="spacingAndGlyphs">MCB-63/C16/2P</text>
<line x1="439.50" y1="156.50" x2="444.50" y2="154.40" stroke="#111" stroke-width="0.6"/>
<text x="471.60" y="153.00" font-size="3.9" textLength="5.70" lengthAdjust="spacingAndGlyphs">WX1</text>
<text x="485.60" y="153.00" font-size="3.9" textLength="47.70" lengthAdjust="spacingAndGlyphs">WDZ-BYJ-3x2.5-PC20-FC.WC.CC</text>
<text x="539.00" y="152.20" font-size="3.5" textLength="4.00" lengthAdjust="spacingAndGlyphs" class="c">照明</text>
<text x="539.00" y="155.70" font-size="3.64" textLength="11.60" lengthAdjust="spacingAndGlyphs">Pe=0.5kW</text>
<line x1="427.70" y1="164.90" x2="534.80" y2="164.90" stroke="#111" stroke-width="0.6"/>
<text x="436.30" y="163.30" font-size="3.9" textLength="18.90" lengthAdjust="spacingAndGlyphs">MCB-63/C16/2P</text>
<line x1="439.50" y1="167.00" x2="444.50" y2="164.90" stroke="#111" stroke-width="0.6"/>
<text x="443.20" y="168.50" font-size="3.77" textLength="8.00" lengthAdjust="spacingAndGlyphs" class="b">30mA</text>
<text x="471.60" y="163.50" font-size="3.9" textLength="5.70" lengthAdjust="spacingAndGlyphs">WX2</text>
<text x="485.60" y="163.50" font-size="3.9" textLength="47.70" lengthAdjust="spacingAndGlyphs">WDZ-BYJ-3x2.5-PC20-FC.WC.CC</text>
<text x="539.00" y="162.70" font-size="3.5" textLength="4.00" lengthAdjust="spacingAndGlyphs" class="c">插座</text>
<text x="539.00" y="166.20" font-size="3.64" textLength="11.60" lengthAdjust="spacingAndGlyphs">Pe=1.0kW</text>
<line x1="427.70" y1="175.45" x2="534.80" y2="175.45" stroke="#111" stroke-width="0.6"/>
<text x="436.30" y="173.85" font-size="3.9" textLength="18.90" lengthAdjust="spacingAndGlyphs">MCB-63/C16/2P</text>
<line x1="439.50" y1="177.55" x2="444.50" y2="175.45" stroke="#111" stroke-width="0.6"/>
<text x="443.20" y="179.05" font-size="3.77" textLength="8.00" lengthAdjust="spacingAndGlyphs" class="b">30mA</text>
<text x="471.60" y="174.05" font-size="3.9" textLength="5.70" lengthAdjust="spacingAndGlyphs">WX3</text>
<text x="485.60" y="174.05" font-size="3.9" textLength="47.70" lengthAdjust="spacingAndGlyphs">WDZ-BYJ-3x2.5-PC20-FC.WC.CC</text>
<text x="539.00" y="173.25" font-size="3.5" textLength="4.00" lengthAdjust="spacingAndGlyphs" class="c">插座</text>
<text x="539.00" y="176.75" font-size="3.64" textLength="11.60" lengthAdjust="spacingAndGlyphs">Pe=1.0kW</text>
<line x1="427.70" y1="186.30" x2="534.80" y2="186.30" stroke="#111" stroke-width="0.6"/>
<text x="436.30" y="184.70" font-size="3.9" textLength="18.90" lengthAdjust="spacingAndGlyphs">MCB-63/C16/2P</text>
<line x1="439.50" y1="188.40" x2="444.50" y2="186.30" stroke="#111" stroke-width="0.6"/>
<text x="471.60" y="184.90" font-size="3.9" textLength="5.70" lengthAdjust="spacingAndGlyphs">WX4</text>
<text x="485.60" y="184.90" font-size="3.9" textLength="47.70" lengthAdjust="spacingAndGlyphs">WDZ-BYJ-3x2.5-PC20-FC.WC.CC</text>
<text x="539.00" y="184.10" font-size="3.5" textLength="11.10" lengthAdjust="spacingAndGlyphs" class="c">卫生间插座</text>
<text x="539.00" y="187.60" font-size="3.64" textLength="11.60" lengthAdjust="spacingAndGlyphs">Pe=1.5kW</text>
<line x1="427.70" y1="195.80" x2="534.80" y2="195.80" stroke="#111" stroke-width="0.6"/>
<text x="436.30" y="194.20" font-size="3.9" textLength="18.90" lengthAdjust="spacingAndGlyphs">MCB-63/C16/2P</text>
<line x1="439.50" y1="197.90" x2="444.50" y2="195.80" stroke="#111" stroke-width="0.6"/>
<text x="392.40" y="208.10" font-size="3.6" class="c">箱</text>
<rect x="385.60" y="228.30" width="27.00" height="48.10" fill="none" stroke="#111" stroke-width="0.7" stroke-dasharray="2.3 1.1"/>
<line x1="363.00" y1="241.45" x2="385.60" y2="241.45" stroke="#111" stroke-width="0.6"/>
<text x="370.50" y="238.20" font-size="3.51" textLength="14.70" lengthAdjust="spacingAndGlyphs" style="stroke-width:0.1px">JX-MEB1</text>
<text x="388.20" y="234.50" font-size="3.38" textLength="11.80" lengthAdjust="spacingAndGlyphs" style="stroke-width:0.1px">[1AL-MEB]</text>
<text x="392.00" y="249.80" font-size="3.3" textLength="9.60" lengthAdjust="spacingAndGlyphs" class="c">总等电位</text>
<text x="389.30" y="257.30" font-size="3.4" textLength="13.70" lengthAdjust="spacingAndGlyphs" class="c">联结端子箱</text>
<text x="394.00" y="264.80" font-size="3.9" textLength="9.00" lengthAdjust="spacingAndGlyphs" style="fill:#333;stroke:#333">H:300mm</text>
<line x1="412.60" y1="241.45" x2="476.00" y2="241.45" stroke="#111" stroke-width="0.7" stroke-dasharray="2.3 1.1"/>
<text x="429.00" y="240.55" font-size="3.9" textLength="47.00" lengthAdjust="spacingAndGlyphs" style="fill:#222;stroke:#222">WDZ-BYJ-1x25-PC25-FC.WC.CC</text>
<text x="477.40" y="243.25" font-size="3.6" textLength="27.60" lengthAdjust="spacingAndGlyphs" class="c">引至基础接地网, 共用接地</text>
<line x1="412.60" y1="253.10" x2="476.00" y2="253.10" stroke="#111" stroke-width="0.7" stroke-dasharray="2.3 1.1"/>
<text x="429.00" y="252.20" font-size="3.9" textLength="47.00" lengthAdjust="spacingAndGlyphs" style="fill:#222;stroke:#222">WDZ-BYJ-1x25-PC25-FC.WC.CC</text>
<text x="477.40" y="254.90" font-size="3.6" textLength="27.60" lengthAdjust="spacingAndGlyphs" class="c">引至基础接地网, 共用接地</text>
<rect x="387.35" y="350.30" width="44.35" height="83.20" fill="none" stroke="#111" stroke-width="0.7" stroke-dasharray="2.5 1.2"/>
<rect x="436.40" y="350.30" width="22.20" height="83.20" fill="none" stroke="#111" stroke-width="0.7" stroke-dasharray="2.5 1.2"/>
<line x1="364.00" y1="393.60" x2="436.40" y2="393.60" stroke="#111" stroke-width="0.6"/>
<text x="363.50" y="390.30" font-size="3.9" textLength="17.50" lengthAdjust="spacingAndGlyphs">ZRA-YJV-5x16</text>
<text x="399.60" y="390.30" font-size="3.9" textLength="20.30" lengthAdjust="spacingAndGlyphs" class="b">MCB-100/C63/3</text>
<line x1="407.30" y1="395.90" x2="412.40" y2="393.60" stroke="#111" stroke-width="0.6"/>
<line x1="423.30" y1="393.60" x2="425.50" y2="391.20" stroke="#111" stroke-width="0.6"/>
<line x1="423.30" y1="393.60" x2="423.30" y2="409.20" stroke="#111" stroke-width="0.8"/>
<line x1="391.10" y1="409.20" x2="423.30" y2="409.20" stroke="#111" stroke-width="0.8"/>
<text x="391.70" y="408.40" font-size="3.9" textLength="30.10" lengthAdjust="spacingAndGlyphs">WDZ-YJY-5x16-MR.WC</text>
<text x="390.40" y="355.00" font-size="3.9" textLength="7.00" lengthAdjust="spacingAndGlyphs">2AL1</text>
<text x="390.40" y="358.75" font-size="3.5" textLength="13.60" lengthAdjust="spacingAndGlyphs" class="c">电梯配电箱</text>
<text x="390.40" y="362.50" font-size="3.9" textLength="11.50" lengthAdjust="spacingAndGlyphs">Pe=30kW</text>
<text x="390.40" y="366.25" font-size="3.9" textLength="12.50" lengthAdjust="spacingAndGlyphs">Pjs=30kW</text>
<text x="390.40" y="370.00" font-size="3.9" textLength="14.00" lengthAdjust="spacingAndGlyphs">cosø=0.85</text>
<text x="390.40" y="373.75" font-size="3.9" textLength="11.50" lengthAdjust="spacingAndGlyphs">Ijs=53.7A</text>
<text x="394.00" y="428.20" font-size="3.6" class="c">箱</text>
<text x="443.60" y="385.00" font-size="3.6" textLength="5.00" lengthAdjust="spacingAndGlyphs" class="c">插接</text>
<text x="440.40" y="391.60" font-size="3.6" textLength="9.20" lengthAdjust="spacingAndGlyphs" class="c">式母线</text>
<text x="444.60" y="397.30" font-size="3.9" textLength="5.60" lengthAdjust="spacingAndGlyphs" class="b">200A</text>
<line x1="458.60" y1="359.40" x2="514.00" y2="359.40" stroke="#111" stroke-width="0.6"/>
<text x="461.70" y="358.30" font-size="3.9" textLength="2.60" lengthAdjust="spacingAndGlyphs" class="b">W1</text>
<text x="468.20" y="358.30" font-size="3.9" textLength="42.80" lengthAdjust="spacingAndGlyphs" style="stroke-width:0.13px">WDZ-YJY-5x4-MR-PC25-WC.CC</text>
<rect x="513.60" y="354.30" width="5.80" height="3.40" fill="#fff" stroke="#111" stroke-width="0.6"/>
<text x="514.90" y="357.00" font-size="2.8" class="c">田</text>
<rect x="513.60" y="357.70" width="5.80" height="3.40" fill="#fff" stroke="#111" stroke-width="0.6"/>
<text x="514.90" y="360.40" font-size="2.8" class="c">田</text>
<rect x="513.60" y="361.10" width="5.80" height="3.40" fill="#fff" stroke="#111" stroke-width="0.6"/>
<text x="514.90" y="363.80" font-size="2.8" class="c">田</text>
<text x="520.50" y="357.00" font-size="3.5" textLength="9.50" lengthAdjust="spacingAndGlyphs" class="c">户内箱</text>
<text x="520.50" y="360.70" font-size="3.9" textLength="12.20" lengthAdjust="spacingAndGlyphs">Pe=1.0kW</text>
<line x1="458.60" y1="371.40" x2="514.00" y2="371.40" stroke="#111" stroke-width="0.6"/>
<text x="461.70" y="370.30" font-size="3.9" textLength="2.60" lengthAdjust="spacingAndGlyphs" class="b">W2</text>
<text x="468.20" y="370.30" font-size="3.9" textLength="42.80" lengthAdjust="spacingAndGlyphs" style="stroke-width:0.13px">WDZ-YJY-5x4-MR-PC25-WC.CC</text>
<rect x="513.60" y="366.30" width="5.80" height="3.40" fill="#fff" stroke="#111" stroke-width="0.6"/>
<text x="514.90" y="369.00" font-size="2.8" class="c">田</text>
<rect x="513.60" y="369.70" width="5.80" height="3.40" fill="#fff" stroke="#111" stroke-width="0.6"/>
<text x="514.90" y="372.40" font-size="2.8" class="c">田</text>
<rect x="513.60" y="373.10" width="5.80" height="3.40" fill="#fff" stroke="#111" stroke-width="0.6"/>
<text x="514.90" y="375.80" font-size="2.8" class="c">田</text>
<text x="520.50" y="369.00" font-size="3.5" textLength="9.50" lengthAdjust="spacingAndGlyphs" class="c">户内箱</text>
<text x="520.50" y="372.70" font-size="3.9" textLength="12.20" lengthAdjust="spacingAndGlyphs">Pe=1.0kW</text>
<line x1="458.60" y1="383.60" x2="514.00" y2="383.60" stroke="#111" stroke-width="0.6"/>
<text x="461.70" y="382.50" font-size="3.9" textLength="2.60" lengthAdjust="spacingAndGlyphs" class="b">W3</text>
<text x="468.20" y="382.50" font-size="3.9" textLength="42.80" lengthAdjust="spacingAndGlyphs" style="stroke-width:0.27px">WDZ-YJY-5x2.5-MR-PC25-WC.CC</text>
<circle cx="514.9" cy="383.90" r="1.55" fill="#000"/>
<text x="520.50" y="381.40" font-size="3.5" textLength="11.00" lengthAdjust="spacingAndGlyphs" class="c">照明箱</text>
<text x="520.50" y="384.90" font-size="3.9" textLength="12.20" lengthAdjust="spacingAndGlyphs">Pe=1.0kW</text>
<line x1="458.60" y1="402.10" x2="514.00" y2="402.10" stroke="#111" stroke-width="0.6"/>
<text x="461.70" y="401.00" font-size="3.9" textLength="2.60" lengthAdjust="spacingAndGlyphs" class="b">W4</text>
<text x="468.20" y="401.00" font-size="3.9" textLength="42.80" lengthAdjust="spacingAndGlyphs" style="stroke-width:0.27px">WDZ-YJY-5x2.5-MR-PC25-WC.CC</text>
<circle cx="514.9" cy="402.40" r="1.55" fill="#000"/>
<text x="520.50" y="399.90" font-size="3.5" textLength="11.00" lengthAdjust="spacingAndGlyphs" class="c">照明箱</text>
<text x="520.50" y="403.40" font-size="3.9" textLength="12.20" lengthAdjust="spacingAndGlyphs">Pe=1.0kW</text>
<line x1="458.60" y1="413.30" x2="514.00" y2="413.30" stroke="#111" stroke-width="0.6"/>
<text x="461.70" y="412.20" font-size="3.9" textLength="2.60" lengthAdjust="spacingAndGlyphs" class="b">W5</text>
<text x="468.20" y="412.20" font-size="3.9" textLength="42.80" lengthAdjust="spacingAndGlyphs" style="stroke-width:0.27px">WDZ-YJY-5x2.5-MR-PC25-WC.CC</text>
<circle cx="514.9" cy="413.60" r="1.55" fill="#000"/>
<text x="520.50" y="411.10" font-size="3.5" textLength="11.00" lengthAdjust="spacingAndGlyphs" class="c">照明箱</text>
<text x="520.50" y="414.60" font-size="3.9" textLength="12.20" lengthAdjust="spacingAndGlyphs">Pe=1.0kW</text>
<line x1="458.60" y1="431.60" x2="514.00" y2="431.60" stroke="#111" stroke-width="0.6"/>
<text x="461.70" y="430.50" font-size="3.9" textLength="2.60" lengthAdjust="spacingAndGlyphs" class="b">W6</text>
<text x="468.20" y="430.50" font-size="3.9" textLength="42.80" lengthAdjust="spacingAndGlyphs" style="stroke-width:0.27px">WDZ-YJY-5x2.5-MR-PC25-WC.CC</text>
<circle cx="514.9" cy="431.90" r="1.55" fill="#000"/>
<text x="520.50" y="429.40" font-size="3.5" textLength="11.00" lengthAdjust="spacingAndGlyphs" class="c">照明箱</text>
<text x="520.50" y="432.90" font-size="3.9" textLength="12.20" lengthAdjust="spacingAndGlyphs">Pe=1.0kW</text>
<polyline points="514.9,387.0 501.7,393.0 514.0,398.3" fill="none" stroke="#111" stroke-width="0.6"/>
<text x="491.80" y="394.40" font-size="4.16" textLength="7.50" lengthAdjust="spacingAndGlyphs" class="b">-L+1</text>
<polyline points="514.9,416.2 501.7,422.2 514.0,428.4" fill="none" stroke="#111" stroke-width="0.6"/>
<text x="491.80" y="423.60" font-size="4.16" textLength="7.50" lengthAdjust="spacingAndGlyphs" class="b">-L+1</text>
<circle cx="554.4" cy="18.7" r="0.5" fill="#aaa"/>
</svg>
</body>
</html>
